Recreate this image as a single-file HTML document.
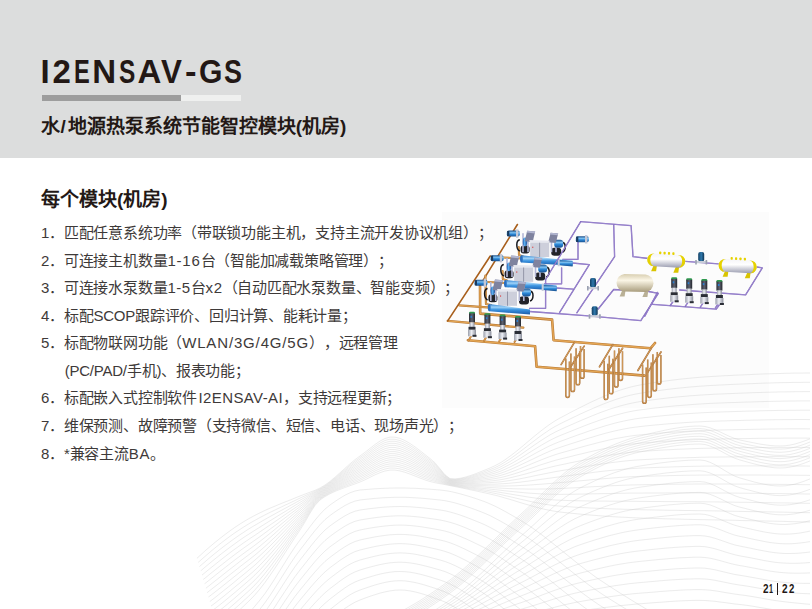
<!DOCTYPE html>
<html lang="zh-CN"><head><meta charset="utf-8">
<style>
html,body{margin:0;padding:0;}
body{width:812px;height:609px;position:relative;overflow:hidden;background:#fff;font-family:"Liberation Sans",sans-serif;color:#231815;}
svg{position:absolute;left:0;top:0;}
#hdr{position:absolute;left:0;top:0;width:812px;height:158px;background:#dcdddd;}
#title span{position:absolute;top:52px;font-size:33px;font-weight:bold;line-height:40px;white-space:nowrap;transform-origin:0 0;}
#bar1{position:absolute;left:42px;top:95px;width:139px;height:6px;background:#9d9d9d;}
#bar2{position:absolute;left:181px;top:95px;width:60px;height:6px;background:#eff0ef;}
#sub{position:absolute;left:41px;top:114px;font-size:19px;font-weight:bold;white-space:nowrap;line-height:26px;}
#h2{position:absolute;left:41px;top:187px;font-size:19px;font-weight:bold;white-space:nowrap;line-height:26px;}
.li{position:absolute;left:41px;font-size:15px;letter-spacing:-0.22px;font-weight:500;text-spacing-trim:space-all;white-space:nowrap;line-height:20px;color:#3e3a39;}
#pg span{position:absolute;top:579px;font-size:12px;font-weight:bold;line-height:20px;color:#231815;transform-origin:0 0;}
#pgbar{position:absolute;left:776.5px;top:583px;width:1.4px;height:11.5px;background:#231815;}
</style></head><body>
<svg width="812" height="609" viewBox="0 0 812 609"><defs>
<linearGradient id="gblue" x1="0" y1="0" x2="0" y2="1"><stop offset="0" stop-color="#1b4f8a"/><stop offset="0.35" stop-color="#7cc0f0"/><stop offset="0.6" stop-color="#2a86d6"/><stop offset="1" stop-color="#1a4f8c"/></linearGradient>
<linearGradient id="gblue2" x1="0" y1="0" x2="0" y2="1"><stop offset="0" stop-color="#2c7fd0"/><stop offset="0.3" stop-color="#9fd3f8"/><stop offset="0.55" stop-color="#3a93e0"/><stop offset="1" stop-color="#1b5aa8"/></linearGradient>
<linearGradient id="gdark" x1="0" y1="0" x2="1" y2="0"><stop offset="0" stop-color="#2a2d35"/><stop offset="0.5" stop-color="#5e6270"/><stop offset="1" stop-color="#23262d"/></linearGradient>
<linearGradient id="gteal" x1="0" y1="0" x2="1" y2="0"><stop offset="0" stop-color="#123e62"/><stop offset="0.5" stop-color="#2f79ad"/><stop offset="1" stop-color="#0f3554"/></linearGradient>
<linearGradient id="gwhite" x1="0" y1="0" x2="0" y2="1"><stop offset="0" stop-color="#f4f4f8"/><stop offset="0.4" stop-color="#ffffff"/><stop offset="1" stop-color="#9a9cb0"/></linearGradient>
<linearGradient id="gsilver" x1="0" y1="0" x2="1" y2="0"><stop offset="0" stop-color="#9a9eaa"/><stop offset="0.45" stop-color="#eef0f6"/><stop offset="1" stop-color="#8a8e9a"/></linearGradient>
<linearGradient id="gblue3" x1="0" y1="0" x2="1" y2="0"><stop offset="0" stop-color="#1f5fb0"/><stop offset="0.4" stop-color="#5fb0f0"/><stop offset="1" stop-color="#1d4f98"/></linearGradient>
<linearGradient id="gbeige" x1="0" y1="0" x2="0" y2="1"><stop offset="0" stop-color="#d8ceb0"/><stop offset="0.35" stop-color="#fbf6e6"/><stop offset="1" stop-color="#a89c7c"/></linearGradient>
</defs><rect x="442" y="212" width="327" height="196" fill="#fcfcfc"/><clipPath id="wclip"><polygon points="188,300 812,300 812,609 212,609 188,528"/></clipPath><g clip-path="url(#wclip)"><g fill="none" stroke="#c8c8c8" stroke-width="0.45" opacity="0.75"><path d="M180,575 L185,569.9 L190,564.9 L195,560.1 L200,555.5 L205,550.9 L210,546.6 L215,542.4 L220,538.4 L225,534.5 L230,530.8 L235,527.3 L240,524 L245,520.9 L250,518 L255,515.3 L260,512.8 L265,510.4 L270,508.2 L275,506.1 L280,504 L285,502 L290,500.1 L295,498 L300,496 L305,494.1 L310,492.2 L315,490.3 L320,488 L325,485 L330,481.4 L335,477.2 L340,472.8 L345,468.3 L350,463.8 L355,459.7 L360,456 L365,452.3 L370,448.4 L375,444.5 L380,441.1 L385,438.5 L390,437.1 L395,437.2 L400,438.4 L405,440.6 L410,443.5 L415,446.9 L420,450.7 L425,454.6 L430,458.5 L435,462.8 L440,468.8 L445,474.8 L450,478.6 L455,478.9 L460,478.3 L465,477.2 L470,475.7 L475,474 L480,472 L485,470 L490,468 L495,465.7 L500,463 L505,459.8 L510,456.2 L515,452.4 L520,448.3 L525,444.1 L530,439.9 L535,435.7 L540,431.7 L545,427.8 L550,424.2 L555,420.9 L560,418 L565,415.4 L570,412.7 L575,410.1 L580,407.6 L585,405.1 L590,402.6 L595,400.3 L600,398 L605,395.8 L610,393.8 L615,391.9 L620,390.2 L625,388.6 L630,387.2 L635,386 L640,385 L645,384.1 L650,383.3 L655,382.5 L660,381.8 L665,381.1 L670,380.4 L675,379.8 L680,379.2 L685,378.7 L690,378.2 L695,377.7 L700,377.3 L705,376.9 L710,376.6 L715,376.3 L720,376 L725,375.7 L730,375.5 L735,375.2 L740,375 L745,374.8 L750,374.6 L755,374.3 L760,374.1 L765,373.9 L770,373.8 L775,373.6 L780,373.5 L785,373.3 L790,373.2 L795,373.1 L800,373.1 L805,373 L810,373"/><path d="M180,579.7 L185,574.8 L190,570 L195,565.3 L200,560.8 L205,556.4 L210,552.1 L215,547.9 L220,543.9 L225,540 L230,536.3 L235,532.7 L240,529.4 L245,526.2 L250,523.1 L255,520.3 L260,517.5 L265,514.9 L270,512.4 L275,510 L280,507.6 L285,505.2 L290,502.9 L295,500.5 L300,498.1 L305,495.8 L310,493.6 L315,491.2 L320,488.8 L325,485.8 L330,482.2 L335,478.1 L340,473.9 L345,469.5 L350,465.2 L355,461.2 L360,457.6 L365,454.1 L370,450.2 L375,446.4 L380,443.1 L385,440.5 L390,439.2 L395,439.3 L400,440.5 L405,442.6 L410,445.4 L415,448.7 L420,452.4 L425,456.2 L430,459.9 L435,464 L440,469.7 L445,475.4 L450,479 L455,479.4 L460,478.9 L465,477.9 L470,476.6 L475,475 L480,473.3 L485,471.4 L490,469.6 L495,467.6 L500,465.1 L505,462.1 L510,458.9 L515,455.4 L520,451.7 L525,447.9 L530,444 L535,440.2 L540,436.4 L545,432.9 L550,429.5 L555,426.5 L560,423.9 L565,421.4 L570,419 L575,416.6 L580,414.2 L585,411.9 L590,409.7 L595,407.5 L600,405.4 L605,403.4 L610,401.5 L615,399.7 L620,398.1 L625,396.6 L630,395.3 L635,394.2 L640,393.3 L645,392.5 L650,391.8 L655,391 L660,390.4 L665,389.7 L670,389.1 L675,388.5 L680,388 L685,387.5 L690,387 L695,386.6 L700,386.2 L705,385.9 L710,385.5 L715,385.3 L720,385 L725,384.8 L730,384.5 L735,384.3 L740,384.1 L745,383.9 L750,383.7 L755,383.5 L760,383.3 L765,383.1 L770,383 L775,382.8 L780,382.7 L785,382.6 L790,382.5 L795,382.4 L800,382.4 L805,382.3 L810,382.3"/><path d="M180,584.4 L185,579.7 L190,575.1 L195,570.6 L200,566.1 L205,561.8 L210,557.5 L215,553.4 L220,549.4 L225,545.5 L230,541.8 L235,538.2 L240,534.7 L245,531.4 L250,528.2 L255,525.2 L260,522.3 L265,519.4 L270,516.6 L275,513.8 L280,511.1 L285,508.4 L290,505.7 L295,503 L300,500.2 L305,497.5 L310,494.9 L315,492.2 L320,489.5 L325,486.5 L330,482.9 L335,479 L340,474.9 L345,470.7 L350,466.6 L355,462.7 L360,459.2 L365,455.8 L370,452 L375,448.3 L380,445 L385,442.6 L390,441.3 L395,441.3 L400,442.5 L405,444.6 L410,447.3 L415,450.6 L420,454.1 L425,457.8 L430,461.4 L435,465.2 L440,470.7 L445,476 L450,479.5 L455,479.9 L460,479.4 L465,478.6 L470,477.5 L475,476.1 L480,474.5 L485,472.9 L490,471.2 L495,469.4 L500,467.2 L505,464.5 L510,461.6 L515,458.4 L520,455.1 L525,451.6 L530,448.1 L535,444.6 L540,441.2 L545,438 L550,434.9 L555,432.2 L560,429.8 L565,427.5 L570,425.3 L575,423.1 L580,420.9 L585,418.8 L590,416.7 L595,414.7 L600,412.7 L605,410.9 L610,409.1 L615,407.5 L620,406 L625,404.7 L630,403.5 L635,402.5 L640,401.6 L645,400.9 L650,400.2 L655,399.5 L660,398.9 L665,398.3 L670,397.7 L675,397.2 L680,396.7 L685,396.3 L690,395.8 L695,395.5 L700,395.1 L705,394.8 L710,394.5 L715,394.2 L720,394 L725,393.8 L730,393.6 L735,393.4 L740,393.2 L745,393 L750,392.8 L755,392.6 L760,392.5 L765,392.3 L770,392.2 L775,392.1 L780,391.9 L785,391.9 L790,391.8 L795,391.7 L800,391.7 L805,391.6 L810,391.6"/><path d="M180,589.1 L185,584.6 L190,580.2 L195,575.8 L200,571.5 L205,567.2 L210,563 L215,558.9 L220,554.9 L225,551 L230,547.3 L235,543.6 L240,540 L245,536.6 L250,533.4 L255,530.2 L260,527.1 L265,523.9 L270,520.8 L275,517.7 L280,514.6 L285,511.6 L290,508.5 L295,505.4 L300,502.4 L305,499.3 L310,496.2 L315,493.1 L320,490.2 L325,487.2 L330,483.7 L335,479.9 L340,475.9 L345,471.9 L350,468 L355,464.2 L360,460.9 L365,457.5 L370,453.8 L375,450.2 L380,447 L385,444.6 L390,443.3 L395,443.4 L400,444.5 L405,446.6 L410,449.2 L415,452.4 L420,455.8 L425,459.4 L430,462.8 L435,466.5 L440,471.6 L445,476.7 L450,479.9 L455,480.3 L460,480 L465,479.3 L470,478.3 L475,477.1 L480,475.7 L485,474.3 L490,472.9 L495,471.3 L500,469.3 L505,466.9 L510,464.3 L515,461.5 L520,458.5 L525,455.4 L530,452.2 L535,449.1 L540,446 L545,443.1 L550,440.3 L555,437.8 L560,435.6 L565,433.6 L570,431.6 L575,429.6 L580,427.6 L585,425.6 L590,423.7 L595,421.9 L600,420.1 L605,418.4 L610,416.8 L615,415.3 L620,414 L625,412.7 L630,411.6 L635,410.7 L640,409.9 L645,409.3 L650,408.6 L655,408 L660,407.5 L665,406.9 L670,406.4 L675,405.9 L680,405.5 L685,405.1 L690,404.7 L695,404.3 L700,404 L705,403.7 L710,403.4 L715,403.2 L720,403 L725,402.8 L730,402.6 L735,402.5 L740,402.3 L745,402.1 L750,402 L755,401.8 L760,401.7 L765,401.5 L770,401.4 L775,401.3 L780,401.2 L785,401.1 L790,401 L795,401 L800,400.9 L805,400.9 L810,400.9"/><path d="M180,593.8 L185,589.5 L190,585.2 L195,581 L200,576.8 L205,572.6 L210,568.5 L215,564.5 L220,560.5 L225,556.6 L230,552.7 L235,549 L240,545.4 L245,541.9 L250,538.5 L255,535.2 L260,531.8 L265,528.4 L270,525 L275,521.6 L280,518.2 L285,514.7 L290,511.3 L295,507.9 L300,504.5 L305,501 L310,497.5 L315,494.1 L320,491 L325,487.9 L330,484.5 L335,480.8 L340,477 L345,473.1 L350,469.3 L355,465.7 L360,462.5 L365,459.2 L370,455.6 L375,452.1 L380,449 L385,446.6 L390,445.4 L395,445.4 L400,446.6 L405,448.5 L410,451.1 L415,454.2 L420,457.5 L425,460.9 L430,464.3 L435,467.7 L440,472.5 L445,477.3 L450,480.4 L455,480.8 L460,480.6 L465,480 L470,479.2 L475,478.2 L480,477 L485,475.7 L490,474.5 L495,473.1 L500,471.4 L505,469.3 L510,467 L515,464.5 L520,461.9 L525,459.1 L530,456.3 L535,453.5 L540,450.8 L545,448.2 L550,445.7 L555,443.5 L560,441.5 L565,439.7 L570,437.8 L575,436 L580,434.2 L585,432.5 L590,430.7 L595,429.1 L600,427.5 L605,425.9 L610,424.5 L615,423.1 L620,421.9 L625,420.8 L630,419.8 L635,418.9 L640,418.2 L645,417.6 L650,417.1 L655,416.5 L660,416 L665,415.5 L670,415.1 L675,414.6 L680,414.2 L685,413.8 L690,413.5 L695,413.2 L700,412.9 L705,412.6 L710,412.4 L715,412.2 L720,412 L725,411.8 L730,411.7 L735,411.5 L740,411.4 L745,411.2 L750,411.1 L755,411 L760,410.8 L765,410.7 L770,410.6 L775,410.5 L780,410.4 L785,410.4 L790,410.3 L795,410.3 L800,410.2 L805,410.2 L810,410.2"/><path d="M180,598.4 L185,594.4 L190,590.3 L195,586.2 L200,582.1 L205,578.1 L210,574 L215,570 L220,566 L225,562.1 L230,558.2 L235,554.4 L240,550.7 L245,547.1 L250,543.6 L255,540.1 L260,536.6 L265,532.9 L270,529.2 L275,525.5 L280,521.7 L285,517.9 L290,514.1 L295,510.4 L300,506.6 L305,502.8 L310,498.8 L315,495 L320,491.8 L325,488.7 L330,485.3 L335,481.7 L340,478 L345,474.3 L350,470.7 L355,467.3 L360,464.1 L365,460.9 L370,457.4 L375,454 L380,451 L385,448.7 L390,447.4 L395,447.5 L400,448.6 L405,450.5 L410,453 L415,456 L420,459.2 L425,462.5 L430,465.7 L435,469 L440,473.5 L445,477.9 L450,480.8 L455,481.3 L460,481.2 L465,480.8 L470,480.1 L475,479.2 L480,478.2 L485,477.2 L490,476.1 L495,475 L500,473.5 L505,471.7 L510,469.7 L515,467.5 L520,465.2 L525,462.8 L530,460.4 L535,458 L540,455.6 L545,453.3 L550,451.1 L555,449.1 L560,447.4 L565,445.7 L570,444.1 L575,442.5 L580,440.9 L585,439.3 L590,437.8 L595,436.3 L600,434.8 L605,433.4 L610,432.1 L615,430.9 L620,429.8 L625,428.8 L630,427.9 L635,427.2 L640,426.6 L645,426 L650,425.5 L655,425 L660,424.6 L665,424.1 L670,423.7 L675,423.3 L680,423 L685,422.6 L690,422.3 L695,422 L700,421.8 L705,421.5 L710,421.3 L715,421.2 L720,421 L725,420.9 L730,420.7 L735,420.6 L740,420.5 L745,420.3 L750,420.2 L755,420.1 L760,420 L765,419.9 L770,419.8 L775,419.7 L780,419.7 L785,419.6 L790,419.6 L795,419.5 L800,419.5 L805,419.5 L810,419.6"/><path d="M180,603.1 L185,599.3 L190,595.4 L195,591.4 L200,587.5 L205,583.5 L210,579.5 L215,575.5 L220,571.5 L225,567.6 L230,563.7 L235,559.8 L240,556.1 L245,552.4 L250,548.8 L255,545.1 L260,541.3 L265,537.4 L270,533.4 L275,529.3 L280,525.2 L285,521.1 L290,516.9 L295,512.8 L300,508.8 L305,504.5 L310,500.1 L315,496 L320,492.5 L325,489.4 L330,486 L335,482.6 L340,479 L345,475.5 L350,472.1 L355,468.8 L360,465.8 L365,462.6 L370,459.2 L375,455.9 L380,452.9 L385,450.7 L390,449.5 L395,449.6 L400,450.6 L405,452.5 L410,455 L415,457.8 L420,460.9 L425,464.1 L430,467.1 L435,470.2 L440,474.4 L445,478.5 L450,481.2 L455,481.8 L460,481.8 L465,481.5 L470,480.9 L475,480.2 L480,479.4 L485,478.6 L490,477.8 L495,476.8 L500,475.6 L505,474.1 L510,472.4 L515,470.6 L520,468.6 L525,466.6 L530,464.5 L535,462.4 L540,460.4 L545,458.4 L550,456.5 L555,454.8 L560,453.2 L565,451.8 L570,450.4 L575,449 L580,447.5 L585,446.1 L590,444.8 L595,443.5 L600,442.2 L605,441 L610,439.8 L615,438.7 L620,437.8 L625,436.9 L630,436.1 L635,435.4 L640,434.9 L645,434.4 L650,434 L655,433.5 L660,433.1 L665,432.7 L670,432.4 L675,432 L680,431.7 L685,431.4 L690,431.1 L695,430.9 L700,430.7 L705,430.5 L710,430.3 L715,430.1 L720,430 L725,429.9 L730,429.8 L735,429.7 L740,429.6 L745,429.5 L750,429.4 L755,429.3 L760,429.2 L765,429.1 L770,429 L775,429 L780,428.9 L785,428.9 L790,428.8 L795,428.8 L800,428.8 L805,428.8 L810,428.9"/><path d="M180,607.8 L185,604.2 L190,600.5 L195,596.7 L200,592.8 L205,588.9 L210,585 L215,581 L220,577.1 L225,573.1 L230,569.2 L235,565.3 L240,561.4 L245,557.6 L250,553.9 L255,550.1 L260,546.1 L265,541.9 L270,537.6 L275,533.2 L280,528.7 L285,524.2 L290,519.7 L295,515.3 L300,510.9 L305,506.2 L310,501.4 L315,496.9 L320,493.2 L325,490.1 L330,486.8 L335,483.4 L340,480.1 L345,476.7 L350,473.4 L355,470.3 L360,467.4 L365,464.3 L370,461 L375,457.8 L380,454.9 L385,452.7 L390,451.6 L395,451.6 L400,452.7 L405,454.5 L410,456.9 L415,459.7 L420,462.7 L425,465.7 L430,468.6 L435,471.5 L440,475.3 L445,479.1 L450,481.7 L455,482.3 L460,482.4 L465,482.2 L470,481.8 L475,481.3 L480,480.7 L485,480 L490,479.4 L495,478.6 L500,477.7 L505,476.5 L510,475.1 L515,473.6 L520,472 L525,470.3 L530,468.6 L535,466.9 L540,465.1 L545,463.5 L550,461.9 L555,460.4 L560,459.1 L565,457.9 L570,456.7 L575,455.4 L580,454.2 L585,453 L590,451.8 L595,450.7 L600,449.5 L605,448.5 L610,447.5 L615,446.6 L620,445.7 L625,444.9 L630,444.2 L635,443.7 L640,443.2 L645,442.8 L650,442.4 L655,442 L660,441.7 L665,441.3 L670,441 L675,440.7 L680,440.4 L685,440.2 L690,440 L695,439.7 L700,439.6 L705,439.4 L710,439.2 L715,439.1 L720,439 L725,438.9 L730,438.8 L735,438.7 L740,438.6 L745,438.6 L750,438.5 L755,438.4 L760,438.3 L765,438.3 L770,438.2 L775,438.2 L780,438.2 L785,438.1 L790,438.1 L795,438.1 L800,438.1 L805,438.1 L810,438.2"/><path d="M180,612.5 L185,609.1 L190,605.5 L195,601.9 L200,598.1 L205,594.3 L210,590.4 L215,586.5 L220,582.6 L225,578.6 L230,574.6 L235,570.7 L240,566.7 L245,562.8 L250,559 L255,555 L260,550.8 L265,546.4 L270,541.8 L275,537.1 L280,532.3 L285,527.4 L290,522.6 L295,517.7 L300,513 L305,508 L310,502.7 L315,497.9 L320,494 L325,490.8 L330,487.6 L335,484.3 L340,481.1 L345,477.9 L350,474.8 L355,471.8 L360,469 L365,466.1 L370,462.8 L375,459.7 L380,456.9 L385,454.8 L390,453.6 L395,453.7 L400,454.7 L405,456.5 L410,458.8 L415,461.5 L420,464.4 L425,467.3 L430,470 L435,472.7 L440,476.3 L445,479.7 L450,482.1 L455,482.8 L460,482.9 L465,482.9 L470,482.7 L475,482.3 L480,481.9 L485,481.4 L490,481 L495,480.5 L500,479.8 L505,478.9 L510,477.8 L515,476.6 L520,475.4 L525,474.1 L530,472.7 L535,471.3 L540,469.9 L545,468.6 L550,467.3 L555,466.1 L560,465 L565,464 L570,462.9 L575,461.9 L580,460.9 L585,459.8 L590,458.8 L595,457.8 L600,456.9 L605,456 L610,455.2 L615,454.4 L620,453.6 L625,453 L630,452.4 L635,451.9 L640,451.5 L645,451.2 L650,450.8 L655,450.5 L660,450.2 L665,449.9 L670,449.7 L675,449.4 L680,449.2 L685,449 L690,448.8 L695,448.6 L700,448.4 L705,448.3 L710,448.2 L715,448.1 L720,448 L725,447.9 L730,447.9 L735,447.8 L740,447.7 L745,447.7 L750,447.6 L755,447.6 L760,447.5 L765,447.5 L770,447.4 L775,447.4 L780,447.4 L785,447.4 L790,447.4 L795,447.4 L800,447.4 L805,447.4 L810,447.5"/><path d="M180,617.2 L185,614 L190,610.6 L195,607.1 L200,603.5 L205,599.7 L210,595.9 L215,592 L220,588.1 L225,584.1 L230,580.1 L235,576.1 L240,572.1 L245,568.1 L250,564.1 L255,560 L260,555.6 L265,550.9 L270,546 L275,541 L280,535.8 L285,530.6 L290,525.4 L295,520.2 L300,515.1 L305,509.7 L310,504 L315,498.8 L320,494.8 L325,491.6 L330,488.4 L335,485.2 L340,482.1 L345,479.1 L350,476.2 L355,473.3 L360,470.6 L365,467.8 L370,464.6 L375,461.6 L380,458.8 L385,456.8 L390,455.7 L395,455.7 L400,456.7 L405,458.4 L410,460.7 L415,463.3 L420,466.1 L425,468.8 L430,471.4 L435,474 L440,477.2 L445,480.3 L450,482.5 L455,483.2 L460,483.5 L465,483.6 L470,483.6 L475,483.4 L480,483.1 L485,482.9 L490,482.6 L495,482.3 L500,481.9 L505,481.2 L510,480.5 L515,479.7 L520,478.8 L525,477.8 L530,476.8 L535,475.7 L540,474.7 L545,473.7 L550,472.7 L555,471.7 L560,470.9 L565,470 L570,469.2 L575,468.4 L580,467.5 L585,466.7 L590,465.8 L595,465 L600,464.3 L605,463.5 L610,462.8 L615,462.2 L620,461.6 L625,461 L630,460.5 L635,460.1 L640,459.8 L645,459.5 L650,459.3 L655,459 L660,458.8 L665,458.5 L670,458.3 L675,458.1 L680,457.9 L685,457.8 L690,457.6 L695,457.5 L700,457.3 L705,457.2 L710,457.1 L715,457.1 L720,457 L725,457 L730,456.9 L735,456.9 L740,456.8 L745,456.8 L750,456.8 L755,456.7 L760,456.7 L765,456.7 L770,456.7 L775,456.6 L780,456.6 L785,456.6 L790,456.7 L795,456.7 L800,456.7 L805,456.7 L810,456.8"/><path d="M180,621.9 L185,618.9 L190,615.7 L195,612.3 L200,608.8 L205,605.2 L210,601.4 L215,597.6 L220,593.6 L225,589.6 L230,585.6 L235,581.5 L240,577.4 L245,573.3 L250,569.2 L255,565 L260,560.3 L265,555.4 L270,550.2 L275,544.8 L280,539.3 L285,533.8 L290,528.2 L295,522.7 L300,517.2 L305,511.5 L310,505.3 L315,499.7 L320,495.5 L325,492.3 L330,489.1 L335,486.1 L340,483.2 L345,480.3 L350,477.5 L355,474.8 L360,472.2 L365,469.5 L370,466.5 L375,463.5 L380,460.8 L385,458.8 L390,457.7 L395,457.8 L400,458.8 L405,460.4 L410,462.6 L415,465.1 L420,467.8 L425,470.4 L430,472.9 L435,475.2 L440,478.1 L445,481 L450,483 L455,483.7 L460,484.1 L465,484.3 L470,484.4 L475,484.4 L480,484.4 L485,484.3 L490,484.2 L495,484.2 L500,483.9 L505,483.6 L510,483.2 L515,482.7 L520,482.2 L525,481.5 L530,480.9 L535,480.2 L540,479.5 L545,478.8 L550,478.1 L555,477.4 L560,476.8 L565,476.1 L570,475.5 L575,474.8 L580,474.2 L585,473.5 L590,472.9 L595,472.2 L600,471.6 L605,471 L610,470.5 L615,470 L620,469.5 L625,469.1 L630,468.7 L635,468.4 L640,468.1 L645,467.9 L650,467.7 L655,467.5 L660,467.3 L665,467.2 L670,467 L675,466.8 L680,466.7 L685,466.5 L690,466.4 L695,466.3 L700,466.2 L705,466.1 L710,466.1 L715,466 L720,466 L725,466 L730,466 L735,465.9 L740,465.9 L745,465.9 L750,465.9 L755,465.9 L760,465.9 L765,465.9 L770,465.9 L775,465.9 L780,465.9 L785,465.9 L790,465.9 L795,466 L800,466 L805,466 L810,466.1"/><path d="M180,626.6 L185,623.8 L190,620.7 L195,617.5 L200,614.1 L205,610.6 L210,606.9 L215,603.1 L220,599.2 L225,595.2 L230,591.1 L235,586.9 L240,582.8 L245,578.6 L250,574.4 L255,570 L260,565.1 L265,559.9 L270,554.4 L275,548.7 L280,542.9 L285,536.9 L290,531 L295,525.1 L300,519.4 L305,513.2 L310,506.7 L315,500.7 L320,496.2 L325,493 L330,489.9 L335,487 L340,484.2 L345,481.5 L350,478.9 L355,476.4 L360,473.9 L365,471.2 L370,468.3 L375,465.4 L380,462.8 L385,460.8 L390,459.8 L395,459.9 L400,460.8 L405,462.4 L410,464.5 L415,466.9 L420,469.5 L425,472 L430,474.3 L435,476.4 L440,479 L445,481.6 L450,483.4 L455,484.2 L460,484.7 L465,485.1 L470,485.3 L475,485.5 L480,485.6 L485,485.7 L490,485.9 L495,486 L500,486 L505,486 L510,485.9 L515,485.8 L520,485.5 L525,485.3 L530,485 L535,484.6 L540,484.3 L545,483.9 L550,483.5 L555,483 L560,482.6 L565,482.2 L570,481.8 L575,481.3 L580,480.8 L585,480.4 L590,479.9 L595,479.4 L600,479 L605,478.6 L610,478.2 L615,477.8 L620,477.4 L625,477.1 L630,476.8 L635,476.6 L640,476.4 L645,476.3 L650,476.2 L655,476 L660,475.9 L665,475.8 L670,475.6 L675,475.5 L680,475.4 L685,475.3 L690,475.2 L695,475.2 L700,475.1 L705,475.1 L710,475 L715,475 L720,475 L725,475 L730,475 L735,475 L740,475 L745,475 L750,475 L755,475 L760,475 L765,475.1 L770,475.1 L775,475.1 L780,475.1 L785,475.2 L790,475.2 L795,475.2 L800,475.3 L805,475.3 L810,475.4"/><path d="M180,631.2 L185,628.7 L190,625.8 L195,622.7 L200,619.5 L205,616 L210,612.4 L215,608.6 L220,604.7 L225,600.7 L230,596.5 L235,592.4 L240,588.1 L245,583.8 L250,579.5 L255,574.9 L260,569.9 L265,564.4 L270,558.6 L275,552.6 L280,546.4 L285,540.1 L290,533.8 L295,527.6 L300,521.5 L305,514.9 L310,508 L315,501.6 L320,497 L325,493.7 L330,490.7 L335,487.9 L340,485.2 L345,482.7 L350,480.3 L355,477.9 L360,475.5 L365,472.9 L370,470.1 L375,467.3 L380,464.8 L385,462.9 L390,461.8 L395,461.9 L400,462.8 L405,464.4 L410,466.4 L415,468.7 L420,471.2 L425,473.6 L430,475.7 L435,477.7 L440,480 L445,482.2 L450,483.8 L455,484.7 L460,485.3 L465,485.8 L470,486.2 L475,486.5 L480,486.8 L485,487.2 L490,487.5 L495,487.8 L500,488.1 L505,488.4 L510,488.6 L515,488.8 L520,488.9 L525,489 L530,489.1 L535,489.1 L540,489 L545,489 L550,488.9 L555,488.7 L560,488.5 L565,488.3 L570,488 L575,487.8 L580,487.5 L585,487.2 L590,486.9 L595,486.6 L600,486.4 L605,486.1 L610,485.8 L615,485.6 L620,485.4 L625,485.2 L630,485 L635,484.9 L640,484.8 L645,484.7 L650,484.6 L655,484.5 L660,484.4 L665,484.4 L670,484.3 L675,484.2 L680,484.2 L685,484.1 L690,484.1 L695,484 L700,484 L705,484 L710,484 L715,484 L720,484 L725,484 L730,484 L735,484.1 L740,484.1 L745,484.1 L750,484.2 L755,484.2 L760,484.2 L765,484.2 L770,484.3 L775,484.3 L780,484.4 L785,484.4 L790,484.5 L795,484.5 L800,484.6 L805,484.7 L810,484.7"/><path d="M180,635.9 L185,633.5 L190,630.9 L195,628 L200,624.8 L205,621.4 L210,617.9 L215,614.1 L220,610.2 L225,606.2 L230,602 L235,597.8 L240,593.4 L245,589.1 L250,584.6 L255,579.9 L260,574.6 L265,568.9 L270,562.8 L275,556.5 L280,549.9 L285,543.3 L290,536.6 L295,530 L300,523.6 L305,516.7 L310,509.3 L315,502.6 L320,497.8 L325,494.5 L330,491.5 L335,488.8 L340,486.3 L345,483.9 L350,481.6 L355,479.4 L360,477.1 L365,474.6 L370,471.9 L375,469.2 L380,466.7 L385,464.9 L390,463.9 L395,464 L400,464.9 L405,466.4 L410,468.3 L415,470.6 L420,472.9 L425,475.2 L430,477.2 L435,478.9 L440,480.9 L445,482.8 L450,484.3 L455,485.2 L460,485.9 L465,486.5 L470,487.1 L475,487.6 L480,488.1 L485,488.6 L490,489.1 L495,489.7 L500,490.2 L505,490.8 L510,491.3 L515,491.8 L520,492.3 L525,492.8 L530,493.2 L535,493.5 L540,493.8 L545,494.1 L550,494.2 L555,494.3 L560,494.4 L565,494.3 L570,494.3 L575,494.2 L580,494.1 L585,494 L590,493.9 L595,493.8 L600,493.7 L605,493.6 L610,493.5 L615,493.4 L620,493.3 L625,493.2 L630,493.1 L635,493.1 L640,493.1 L645,493 L650,493 L655,493 L660,493 L665,493 L670,492.9 L675,492.9 L680,492.9 L685,492.9 L690,492.9 L695,492.9 L700,492.9 L705,492.9 L710,492.9 L715,493 L720,493 L725,493 L730,493.1 L735,493.1 L740,493.2 L745,493.2 L750,493.3 L755,493.3 L760,493.4 L765,493.4 L770,493.5 L775,493.6 L780,493.6 L785,493.7 L790,493.7 L795,493.8 L800,493.9 L805,494 L810,494"/><path d="M180,640.6 L185,638.4 L190,636 L195,633.2 L200,630.1 L205,626.9 L210,623.4 L215,619.6 L220,615.7 L225,611.7 L230,607.5 L235,603.2 L240,598.8 L245,594.3 L250,589.8 L255,584.9 L260,579.4 L265,573.4 L270,567 L275,560.3 L280,553.4 L285,546.4 L290,539.4 L295,532.5 L300,525.8 L305,518.4 L310,510.6 L315,503.5 L320,498.5 L325,495.2 L330,492.3 L335,489.7 L340,487.3 L345,485.1 L350,483 L355,480.9 L360,478.8 L365,476.3 L370,473.7 L375,471 L380,468.7 L385,466.9 L390,466 L395,466 L400,466.9 L405,468.3 L410,470.2 L415,472.4 L420,474.6 L425,476.7 L430,478.6 L435,480.2 L440,481.8 L445,483.4 L450,484.7 L455,485.6 L460,486.5 L465,487.2 L470,487.9 L475,488.6 L480,489.3 L485,490 L490,490.8 L495,491.5 L500,492.3 L505,493.2 L510,494 L515,494.9 L520,495.7 L525,496.5 L530,497.3 L535,498 L540,498.6 L545,499.2 L550,499.6 L555,500 L560,500.2 L565,500.4 L570,500.6 L575,500.7 L580,500.8 L585,500.9 L590,501 L595,501 L600,501.1 L605,501.1 L610,501.2 L615,501.2 L620,501.2 L625,501.2 L630,501.3 L635,501.3 L640,501.4 L645,501.4 L650,501.5 L655,501.5 L660,501.5 L665,501.6 L670,501.6 L675,501.6 L680,501.7 L685,501.7 L690,501.7 L695,501.7 L700,501.8 L705,501.8 L710,501.9 L715,501.9 L720,502 L725,502.1 L730,502.1 L735,502.2 L740,502.3 L745,502.3 L750,502.4 L755,502.5 L760,502.6 L765,502.6 L770,502.7 L775,502.8 L780,502.9 L785,502.9 L790,503 L795,503.1 L800,503.2 L805,503.3 L810,503.3"/><path d="M180,645.3 L185,643.3 L190,641 L195,638.4 L200,635.5 L205,632.3 L210,628.8 L215,625.2 L220,621.3 L225,617.2 L230,613 L235,608.6 L240,604.1 L245,599.5 L250,594.9 L255,589.8 L260,584.1 L265,577.9 L270,571.2 L275,564.2 L280,557 L285,549.6 L290,542.2 L295,535 L300,527.9 L305,520.2 L310,511.9 L315,504.5 L320,499.2 L325,495.9 L330,493 L335,490.5 L340,488.3 L345,486.3 L350,484.4 L355,482.4 L360,480.4 L365,478 L370,475.5 L375,472.9 L380,470.7 L385,469 L390,468 L395,468.1 L400,468.9 L405,470.3 L410,472.1 L415,474.2 L420,476.3 L425,478.3 L430,480.1 L435,481.4 L440,482.8 L445,484 L450,485.2 L455,486.1 L460,487 L465,487.9 L470,488.8 L475,489.7 L480,490.5 L485,491.4 L490,492.4 L495,493.4 L500,494.4 L505,495.6 L510,496.7 L515,497.9 L520,499.1 L525,500.2 L530,501.4 L535,502.4 L540,503.4 L545,504.3 L550,505 L555,505.7 L560,506.1 L565,506.5 L570,506.8 L575,507.2 L580,507.5 L585,507.7 L590,508 L595,508.2 L600,508.4 L605,508.6 L610,508.8 L615,509 L620,509.1 L625,509.3 L630,509.4 L635,509.6 L640,509.7 L645,509.8 L650,509.9 L655,510 L660,510.1 L665,510.2 L670,510.3 L675,510.3 L680,510.4 L685,510.5 L690,510.5 L695,510.6 L700,510.7 L705,510.7 L710,510.8 L715,510.9 L720,511 L725,511.1 L730,511.2 L735,511.3 L740,511.4 L745,511.5 L750,511.6 L755,511.6 L760,511.7 L765,511.8 L770,511.9 L775,512 L780,512.1 L785,512.2 L790,512.3 L795,512.4 L800,512.5 L805,512.6 L810,512.7"/><path d="M180,650 L185,648.2 L190,646.1 L195,643.6 L200,640.8 L205,637.7 L210,634.3 L215,630.7 L220,626.8 L225,622.7 L230,618.5 L235,614 L240,609.5 L245,604.8 L250,600 L255,594.8 L260,588.9 L265,582.4 L270,575.4 L275,568.1 L280,560.5 L285,552.8 L290,545.1 L295,537.4 L300,530 L305,521.9 L310,513.2 L315,505.4 L320,500 L325,496.6 L330,493.8 L335,491.4 L340,489.4 L345,487.5 L350,485.7 L355,483.9 L360,482 L365,479.8 L370,477.3 L375,474.8 L380,472.7 L385,471 L390,470.1 L395,470.1 L400,470.9 L405,472.3 L410,474.1 L415,476 L420,478 L425,479.9 L430,481.5 L435,482.7 L440,483.7 L445,484.6 L450,485.6 L455,486.6 L460,487.6 L465,488.6 L470,489.7 L475,490.7 L480,491.8 L485,492.9 L490,494 L495,495.2 L500,496.5 L505,498 L510,499.4 L515,500.9 L520,502.5 L525,504 L530,505.4 L535,506.9 L540,508.2 L545,509.4 L550,510.4 L555,511.3 L560,512 L565,512.6 L570,513.1 L575,513.6 L580,514.1 L585,514.6 L590,515 L595,515.4 L600,515.8 L605,516.2 L610,516.5 L615,516.8 L620,517.1 L625,517.3 L630,517.6 L635,517.8 L640,518 L645,518.2 L650,518.3 L655,518.5 L660,518.6 L665,518.8 L670,518.9 L675,519 L680,519.1 L685,519.3 L690,519.4 L695,519.5 L700,519.6 L705,519.7 L710,519.8 L715,519.9 L720,520 L725,520.1 L730,520.2 L735,520.3 L740,520.5 L745,520.6 L750,520.7 L755,520.8 L760,520.9 L765,521 L770,521.1 L775,521.2 L780,521.3 L785,521.4 L790,521.6 L795,521.7 L800,521.8 L805,521.9 L810,522"/></g><g fill="none" stroke="#c8c8c8" stroke-width="0.45" opacity="0.75"><path d="M200,660 L205,656.3 L210,652.4 L215,648.1 L220,643.6 L225,638.9 L230,633.9 L235,628.7 L240,623.3 L245,617.7 L250,611.9 L255,606 L260,600 L265,593.5 L270,586.2 L275,578.5 L280,570.4 L285,562.4 L290,554.4 L295,546.9 L300,540 L305,533.4 L310,526.7 L315,520.2 L320,514.3 L325,509.1 L330,505 L335,501.5 L340,498.2 L345,495.2 L350,492.8 L355,491 L360,490 L365,489.6 L370,489.2 L375,488.8 L380,488.5 L385,488.3 L390,488.1 L395,488 L400,488 L405,488 L410,488.2 L415,488.3 L420,488.6 L425,488.9 L430,489.2 L435,489.6 L440,490 L445,490.6 L450,491.4 L455,492.5 L460,493.8 L465,495.2 L470,496.7 L475,498.3 L480,500 L485,501.8 L490,503.9 L495,506.2 L500,508.7 L505,511.4 L510,514.2 L515,517.1 L520,520 L525,523.1 L530,526.3 L535,529.8 L540,533.5 L545,537.3 L550,541.2 L555,545.1 L560,549.2 L565,553.2 L570,557.3 L575,561.3 L580,565.3 L585,569.2 L590,572.9 L595,576.6 L600,580 L605,583.3 L610,586.6 L615,589.8 L620,593 L625,596.1 L630,599.2 L635,602.3 L640,605.3 L645,608.3 L650,611.3 L655,614.2 L660,617.1 L665,620 L670,622.9 L675,625.8 L680,628.6 L685,631.5 L690,634.3 L695,637.2 L700,640 L705,642.8 L710,645.6 L715,648.4 L720,651.2 L725,654 L730,656.8 L735,659.5 L740,662.3 L745,665 L750,667.7 L755,670.4 L760,673 L765,675.7 L770,678.4 L775,681 L780,683.6 L785,686.2 L790,688.8 L795,691.4 L800,693.9 L805,696.5 L810,699"/><path d="M200,669.1 L205,665.4 L210,661.4 L215,657.1 L220,652.6 L225,647.8 L230,642.8 L235,637.6 L240,632.2 L245,626.6 L250,620.9 L255,615.1 L260,609.1 L265,602.6 L270,595.5 L275,587.8 L280,579.9 L285,572 L290,564.2 L295,556.8 L300,550 L305,543.5 L310,536.9 L315,530.6 L320,524.7 L325,519.6 L330,515.5 L335,511.9 L340,508.6 L345,505.5 L350,503 L355,501.1 L360,500 L365,499.4 L370,498.9 L375,498.4 L380,498 L385,497.7 L390,497.5 L395,497.3 L400,497.3 L405,497.3 L410,497.5 L415,497.8 L420,498.1 L425,498.5 L430,499 L435,499.5 L440,500 L445,500.7 L450,501.7 L455,502.9 L460,504.4 L465,506 L470,507.7 L475,509.5 L480,511.4 L485,513.4 L490,515.6 L495,518.2 L500,520.9 L505,523.7 L510,526.7 L515,529.7 L520,532.7 L525,535.9 L530,539.2 L535,542.8 L540,546.5 L545,550.3 L550,554.2 L555,558.2 L560,562.2 L565,566.3 L570,570.3 L575,574.3 L580,578.2 L585,582.1 L590,585.8 L595,589.3 L600,592.7 L605,596 L610,599.2 L615,602.3 L620,605.4 L625,608.5 L630,611.5 L635,614.5 L640,617.4 L645,620.3 L650,623.2 L655,626 L660,628.8 L665,631.6 L670,634.4 L675,637.2 L680,639.9 L685,642.7 L690,645.4 L695,648.2 L700,650.9 L705,653.7 L710,656.4 L715,659.1 L720,661.8 L725,664.5 L730,667.2 L735,669.8 L740,672.5 L745,675.1 L750,677.7 L755,680.4 L760,683 L765,685.5 L770,688.1 L775,690.7 L780,693.2 L785,695.7 L790,698.2 L795,700.7 L800,703.2 L805,705.7 L810,708.1"/><path d="M200,678.2 L205,674.4 L210,670.4 L215,666 L220,661.5 L225,656.7 L230,651.7 L235,646.5 L240,641.2 L245,635.6 L250,629.9 L255,624.1 L260,618.2 L265,611.8 L270,604.7 L275,597.2 L280,589.4 L285,581.6 L290,574 L295,566.7 L300,560 L305,553.6 L310,547.1 L315,540.9 L320,535.1 L325,530 L330,525.9 L335,522.3 L340,518.9 L345,515.8 L350,513.2 L355,511.2 L360,510 L365,509.3 L370,508.6 L375,508.1 L380,507.5 L385,507.1 L390,506.8 L395,506.6 L400,506.5 L405,506.6 L410,506.8 L415,507.2 L420,507.6 L425,508.1 L430,508.7 L435,509.3 L440,510 L445,510.8 L450,512 L455,513.4 L460,515 L465,516.8 L470,518.7 L475,520.7 L480,522.7 L485,524.9 L490,527.4 L495,530.1 L500,533 L505,536 L510,539.1 L515,542.3 L520,545.5 L525,548.7 L530,552.1 L535,555.7 L540,559.5 L545,563.3 L550,567.3 L555,571.3 L560,575.3 L565,579.3 L570,583.3 L575,587.3 L580,591.2 L585,595 L590,598.6 L595,602.1 L600,605.5 L605,608.6 L610,611.8 L615,614.8 L620,617.9 L625,620.8 L630,623.7 L635,626.6 L640,629.5 L645,632.3 L650,635 L655,637.8 L660,640.5 L665,643.2 L670,645.9 L675,648.5 L680,651.2 L685,653.9 L690,656.5 L695,659.2 L700,661.8 L705,664.5 L710,667.1 L715,669.7 L720,672.4 L725,675 L730,677.6 L735,680.2 L740,682.7 L745,685.3 L750,687.8 L755,690.3 L760,692.9 L765,695.4 L770,697.9 L775,700.3 L780,702.8 L785,705.2 L790,707.7 L795,710.1 L800,712.5 L805,714.9 L810,717.2"/><path d="M200,687.3 L205,683.4 L210,679.3 L215,675 L220,670.4 L225,665.6 L230,660.6 L235,655.5 L240,650.1 L245,644.6 L250,639 L255,633.2 L260,627.3 L265,620.9 L270,614 L275,606.6 L280,598.9 L285,591.3 L290,583.8 L295,576.6 L300,570 L305,563.7 L310,557.3 L315,551.2 L320,545.5 L325,540.5 L330,536.4 L335,532.7 L340,529.3 L345,526.1 L350,523.4 L355,521.3 L360,520 L365,519.2 L370,518.4 L375,517.7 L380,517.1 L385,516.5 L390,516.2 L395,515.9 L400,515.8 L405,515.9 L410,516.2 L415,516.6 L420,517.1 L425,517.8 L430,518.5 L435,519.2 L440,520 L445,521 L450,522.3 L455,523.8 L460,525.6 L465,527.6 L470,529.7 L475,531.9 L480,534.1 L485,536.5 L490,539.1 L495,542 L500,545.1 L505,548.3 L510,551.6 L515,554.9 L520,558.2 L525,561.5 L530,565 L535,568.7 L540,572.5 L545,576.4 L550,580.3 L555,584.3 L560,588.4 L565,592.4 L570,596.4 L575,600.3 L580,604.1 L585,607.9 L590,611.5 L595,614.9 L600,618.2 L605,621.3 L610,624.4 L615,627.3 L620,630.3 L625,633.2 L630,636 L635,638.8 L640,641.5 L645,644.2 L650,646.9 L655,649.5 L660,652.2 L665,654.8 L670,657.3 L675,659.9 L680,662.5 L685,665 L690,667.6 L695,670.2 L700,672.7 L705,675.3 L710,677.9 L715,680.4 L720,682.9 L725,685.5 L730,688 L735,690.5 L740,693 L745,695.4 L750,697.9 L755,700.3 L760,702.8 L765,705.2 L770,707.6 L775,710 L780,712.4 L785,714.7 L790,717.1 L795,719.4 L800,721.8 L805,724.1 L810,726.4"/><path d="M200,696.4 L205,692.5 L210,688.3 L215,683.9 L220,679.3 L225,674.6 L230,669.6 L235,664.4 L240,659.1 L245,653.6 L250,648 L255,642.2 L260,636.4 L265,630.1 L270,623.2 L275,615.9 L280,608.4 L285,600.9 L290,593.5 L295,586.5 L300,580 L305,573.8 L310,567.6 L315,561.5 L320,556 L325,551 L330,546.8 L335,543.2 L340,539.6 L345,536.4 L350,533.6 L355,531.4 L360,530 L365,529 L370,528.1 L375,527.3 L380,526.6 L385,526 L390,525.5 L395,525.2 L400,525.1 L405,525.2 L410,525.5 L415,526 L420,526.6 L425,527.4 L430,528.2 L435,529.1 L440,530 L445,531.1 L450,532.5 L455,534.3 L460,536.3 L465,538.4 L470,540.7 L475,543.1 L480,545.5 L485,548 L490,550.9 L495,554 L500,557.2 L505,560.6 L510,564.1 L515,567.5 L520,570.9 L525,574.3 L530,577.9 L535,581.7 L540,585.5 L545,589.4 L550,593.4 L555,597.4 L560,601.4 L565,605.4 L570,609.4 L575,613.3 L580,617.1 L585,620.8 L590,624.3 L595,627.7 L600,630.9 L605,634 L610,636.9 L615,639.9 L620,642.7 L625,645.5 L630,648.2 L635,650.9 L640,653.6 L645,656.2 L650,658.8 L655,661.3 L660,663.8 L665,666.3 L670,668.8 L675,671.3 L680,673.8 L685,676.2 L690,678.7 L695,681.2 L700,683.6 L705,686.1 L710,688.6 L715,691.1 L720,693.5 L725,695.9 L730,698.4 L735,700.8 L740,703.2 L745,705.6 L750,708 L755,710.3 L760,712.7 L765,715 L770,717.3 L775,719.7 L780,722 L785,724.3 L790,726.5 L795,728.8 L800,731 L805,733.3 L810,735.5"/><path d="M200,705.5 L205,701.5 L210,697.3 L215,692.9 L220,688.3 L225,683.5 L230,678.5 L235,673.3 L240,668 L245,662.6 L250,657 L255,651.3 L260,645.5 L265,639.2 L270,632.5 L275,625.3 L280,617.9 L285,610.5 L290,603.3 L295,596.4 L300,590 L305,583.9 L310,577.8 L315,571.9 L320,566.4 L325,561.4 L330,557.3 L335,553.6 L340,550 L345,546.7 L350,543.8 L355,541.5 L360,540 L365,538.9 L370,537.9 L375,536.9 L380,536.1 L385,535.4 L390,534.8 L395,534.5 L400,534.4 L405,534.5 L410,534.9 L415,535.4 L420,536.1 L425,537 L430,538 L435,539 L440,540 L445,541.2 L450,542.8 L455,544.7 L460,546.9 L465,549.2 L470,551.7 L475,554.2 L480,556.8 L485,559.6 L490,562.6 L495,565.9 L500,569.3 L505,572.9 L510,576.5 L515,580.1 L520,583.6 L525,587.2 L530,590.8 L535,594.6 L540,598.5 L545,602.5 L550,606.5 L555,610.5 L560,614.5 L565,618.5 L570,622.4 L575,626.3 L580,630 L585,633.7 L590,637.2 L595,640.5 L600,643.6 L605,646.6 L610,649.5 L615,652.4 L620,655.1 L625,657.8 L630,660.5 L635,663.1 L640,665.7 L645,668.2 L650,670.6 L655,673.1 L660,675.5 L665,677.9 L670,680.3 L675,682.7 L680,685 L685,687.4 L690,689.8 L695,692.2 L700,694.5 L705,696.9 L710,699.3 L715,701.7 L720,704.1 L725,706.4 L730,708.8 L735,711.1 L740,713.4 L745,715.7 L750,718 L755,720.3 L760,722.6 L765,724.8 L770,727.1 L775,729.3 L780,731.6 L785,733.8 L790,736 L795,738.1 L800,740.3 L805,742.5 L810,744.6"/><path d="M200,714.5 L205,710.5 L210,706.3 L215,701.8 L220,697.2 L225,692.4 L230,687.4 L235,682.3 L240,677 L245,671.5 L250,666 L255,660.3 L260,654.5 L265,648.4 L270,641.7 L275,634.7 L280,627.4 L285,620.2 L290,613.1 L295,606.3 L300,600 L305,594 L310,588 L315,582.2 L320,576.8 L325,571.9 L330,567.7 L335,564 L340,560.3 L345,557 L350,554 L355,551.6 L360,550 L365,548.8 L370,547.6 L375,546.5 L380,545.6 L385,544.8 L390,544.2 L395,543.8 L400,543.6 L405,543.8 L410,544.2 L415,544.8 L420,545.7 L425,546.6 L430,547.7 L435,548.8 L440,550 L445,551.4 L450,553.1 L455,555.2 L460,557.5 L465,560 L470,562.7 L475,565.4 L480,568.2 L485,571.1 L490,574.3 L495,577.8 L500,581.5 L505,585.2 L510,589 L515,592.7 L520,596.4 L525,600 L530,603.7 L535,607.6 L540,611.5 L545,615.5 L550,619.5 L555,623.5 L560,627.6 L565,631.5 L570,635.4 L575,639.3 L580,643 L585,646.6 L590,650 L595,653.3 L600,656.4 L605,659.3 L610,662.1 L615,664.9 L620,667.6 L625,670.2 L630,672.8 L635,675.3 L640,677.7 L645,680.1 L650,682.5 L655,684.9 L660,687.2 L665,689.5 L670,691.8 L675,694 L680,696.3 L685,698.6 L690,700.9 L695,703.1 L700,705.5 L705,707.8 L710,710.1 L715,712.4 L720,714.6 L725,716.9 L730,719.2 L735,721.4 L740,723.7 L745,725.9 L750,728.1 L755,730.3 L760,732.5 L765,734.7 L770,736.8 L775,739 L780,741.1 L785,743.3 L790,745.4 L795,747.5 L800,749.6 L805,751.7 L810,753.7"/><path d="M200,723.6 L205,719.6 L210,715.3 L215,710.8 L220,706.1 L225,701.3 L230,696.3 L235,691.2 L240,685.9 L245,680.5 L250,675 L255,669.4 L260,663.6 L265,657.6 L270,651 L275,644 L280,636.9 L285,629.8 L290,622.8 L295,616.2 L300,610 L305,604.1 L310,598.2 L315,592.5 L320,587.2 L325,582.4 L330,578.2 L335,574.4 L340,570.7 L345,567.2 L350,564.2 L355,561.8 L360,560 L365,558.7 L370,557.4 L375,556.2 L380,555.1 L385,554.2 L390,553.5 L395,553.1 L400,552.9 L405,553.1 L410,553.5 L415,554.2 L420,555.2 L425,556.2 L430,557.4 L435,558.7 L440,560 L445,561.5 L450,563.4 L455,565.6 L460,568.1 L465,570.8 L470,573.7 L475,576.6 L480,579.5 L485,582.7 L490,586.1 L495,589.7 L500,593.6 L505,597.5 L510,601.5 L515,605.3 L520,609.1 L525,612.8 L530,616.6 L535,620.6 L540,624.5 L545,628.5 L550,632.6 L555,636.6 L560,640.6 L565,644.6 L570,648.5 L575,652.3 L580,655.9 L585,659.5 L590,662.9 L595,666.1 L600,669.1 L605,671.9 L610,674.7 L615,677.4 L620,680 L625,682.5 L630,685 L635,687.4 L640,689.8 L645,692.1 L650,694.4 L655,696.6 L660,698.9 L665,701.1 L670,703.2 L675,705.4 L680,707.6 L685,709.8 L690,711.9 L695,714.1 L700,716.4 L705,718.6 L710,720.8 L715,723 L720,725.2 L725,727.4 L730,729.6 L735,731.7 L740,733.9 L745,736 L750,738.2 L755,740.3 L760,742.4 L765,744.5 L770,746.6 L775,748.7 L780,750.7 L785,752.8 L790,754.8 L795,756.8 L800,758.9 L805,760.9 L810,762.8"/><path d="M200,732.7 L205,728.6 L210,724.3 L215,719.7 L220,715.1 L225,710.2 L230,705.3 L235,700.1 L240,694.9 L245,689.5 L250,684 L255,678.4 L260,672.7 L265,666.7 L270,660.2 L275,653.4 L280,646.4 L285,639.4 L290,632.6 L295,626.1 L300,620 L305,614.2 L310,608.4 L315,602.9 L320,597.6 L325,592.8 L330,588.6 L335,584.8 L340,581 L345,577.5 L350,574.4 L355,571.9 L360,570 L365,568.5 L370,567.1 L375,565.8 L380,564.6 L385,563.6 L390,562.8 L395,562.4 L400,562.2 L405,562.4 L410,562.9 L415,563.7 L420,564.7 L425,565.9 L430,567.2 L435,568.6 L440,570 L445,571.6 L450,573.7 L455,576.1 L460,578.8 L465,581.6 L470,584.7 L475,587.8 L480,590.9 L485,594.2 L490,597.8 L495,601.7 L500,605.7 L505,609.8 L510,613.9 L515,617.9 L520,621.8 L525,625.6 L530,629.5 L535,633.5 L540,637.5 L545,641.6 L550,645.6 L555,649.7 L560,653.7 L565,657.6 L570,661.5 L575,665.3 L580,668.9 L585,672.4 L590,675.7 L595,678.9 L600,681.8 L605,684.6 L610,687.3 L615,689.9 L620,692.4 L625,694.9 L630,697.3 L635,699.6 L640,701.9 L645,704.1 L650,706.3 L655,708.4 L660,710.5 L665,712.6 L670,714.7 L675,716.8 L680,718.9 L685,720.9 L690,723 L695,725.1 L700,727.3 L705,729.4 L710,731.5 L715,733.7 L720,735.8 L725,737.9 L730,740 L735,742.1 L740,744.1 L745,746.2 L750,748.2 L755,750.3 L760,752.3 L765,754.3 L770,756.3 L775,758.3 L780,760.3 L785,762.3 L790,764.2 L795,766.2 L800,768.1 L805,770.1 L810,772"/><path d="M200,741.8 L205,737.6 L210,733.2 L215,728.7 L220,724 L225,719.2 L230,714.2 L235,709.1 L240,703.8 L245,698.5 L250,693 L255,687.5 L260,681.8 L265,675.9 L270,669.5 L275,662.8 L280,655.9 L285,649.1 L290,642.4 L295,636 L300,630 L305,624.3 L310,618.7 L315,613.2 L320,608 L325,603.3 L330,599.1 L335,595.2 L340,591.4 L345,587.8 L350,584.6 L355,582 L360,580 L365,578.4 L370,576.9 L375,575.4 L380,574.1 L385,573 L390,572.2 L395,571.6 L400,571.5 L405,571.7 L410,572.2 L415,573.1 L420,574.2 L425,575.5 L430,576.9 L435,578.5 L440,580 L445,581.8 L450,584 L455,586.5 L460,589.4 L465,592.5 L470,595.7 L475,599 L480,602.3 L485,605.8 L490,609.6 L495,613.6 L500,617.8 L505,622.1 L510,626.4 L515,630.6 L520,634.5 L525,638.5 L530,642.4 L535,646.5 L540,650.5 L545,654.6 L550,658.7 L555,662.7 L560,666.7 L565,670.7 L570,674.5 L575,678.2 L580,681.8 L585,685.3 L590,688.6 L595,691.7 L600,694.5 L605,697.3 L610,699.9 L615,702.4 L620,704.8 L625,707.2 L630,709.5 L635,711.7 L640,713.9 L645,716 L650,718.1 L655,720.2 L660,722.2 L665,724.2 L670,726.2 L675,728.2 L680,730.1 L685,732.1 L690,734.1 L695,736.1 L700,738.2 L705,740.2 L710,742.3 L715,744.3 L720,746.4 L725,748.4 L730,750.4 L735,752.4 L740,754.4 L745,756.3 L750,758.3 L755,760.3 L760,762.2 L765,764.2 L770,766.1 L775,768 L780,769.9 L785,771.8 L790,773.7 L795,775.5 L800,777.4 L805,779.3 L810,781.1"/><path d="M200,750.9 L205,746.6 L210,742.2 L215,737.7 L220,732.9 L225,728.1 L230,723.1 L235,718 L240,712.8 L245,707.5 L250,702 L255,696.5 L260,690.9 L265,685 L270,678.7 L275,672.1 L280,665.4 L285,658.7 L290,652.2 L295,645.9 L300,640 L305,634.4 L310,628.9 L315,623.5 L320,618.5 L325,613.8 L330,609.5 L335,605.6 L340,601.7 L345,598.1 L350,594.8 L355,592.1 L360,590 L365,588.3 L370,586.6 L375,585 L380,583.6 L385,582.4 L390,581.5 L395,580.9 L400,580.7 L405,580.9 L410,581.6 L415,582.5 L420,583.7 L425,585.1 L430,586.7 L435,588.3 L440,590 L445,591.9 L450,594.3 L455,597 L460,600 L465,603.3 L470,606.7 L475,610.1 L480,613.6 L485,617.3 L490,621.3 L495,625.5 L500,630 L505,634.4 L510,638.9 L515,643.2 L520,647.3 L525,651.3 L530,655.3 L535,659.4 L540,663.6 L545,667.7 L550,671.8 L555,675.8 L560,679.8 L565,683.7 L570,687.5 L575,691.2 L580,694.8 L585,698.2 L590,701.4 L595,704.5 L600,707.3 L605,709.9 L610,712.5 L615,714.9 L620,717.3 L625,719.6 L630,721.8 L635,723.9 L640,726 L645,728 L650,730 L655,732 L660,733.9 L665,735.8 L670,737.7 L675,739.5 L680,741.4 L685,743.3 L690,745.2 L695,747.1 L700,749.1 L705,751.1 L710,753 L715,755 L720,756.9 L725,758.9 L730,760.8 L735,762.7 L740,764.6 L745,766.5 L750,768.4 L755,770.3 L760,772.1 L765,774 L770,775.8 L775,777.7 L780,779.5 L785,781.3 L790,783.1 L795,784.9 L800,786.7 L805,788.4 L810,790.2"/><path d="M200,760 L205,755.7 L210,751.2 L215,746.6 L220,741.9 L225,737 L230,732 L235,726.9 L240,721.7 L245,716.4 L250,711 L255,705.6 L260,700 L265,694.2 L270,688 L275,681.5 L280,674.9 L285,668.4 L290,661.9 L295,655.8 L300,650 L305,644.5 L310,639.1 L315,633.9 L320,628.9 L325,624.2 L330,620 L335,616 L340,612.1 L345,608.4 L350,605.1 L355,602.2 L360,600 L365,598.1 L370,596.3 L375,594.7 L380,593.1 L385,591.9 L390,590.9 L395,590.2 L400,590 L405,590.2 L410,590.9 L415,591.9 L420,593.2 L425,594.7 L430,596.4 L435,598.2 L440,600 L445,602 L450,604.5 L455,607.4 L460,610.6 L465,614.1 L470,617.7 L475,621.3 L480,625 L485,628.8 L490,633 L495,637.5 L500,642.1 L505,646.7 L510,651.3 L515,655.8 L520,660 L525,664.1 L530,668.2 L535,672.4 L540,676.6 L545,680.7 L550,684.8 L555,688.9 L560,692.9 L565,696.8 L570,700.6 L575,704.2 L580,707.7 L585,711.1 L590,714.3 L595,717.2 L600,720 L605,722.6 L610,725.1 L615,727.4 L620,729.7 L625,731.9 L630,734 L635,736.1 L640,738.1 L645,740 L650,741.9 L655,743.7 L660,745.5 L665,747.3 L670,749.1 L675,750.9 L680,752.7 L685,754.5 L690,756.3 L695,758.1 L700,760 L705,761.9 L710,763.8 L715,765.6 L720,767.5 L725,769.3 L730,771.2 L735,773 L740,774.8 L745,776.6 L750,778.5 L755,780.2 L760,782 L765,783.8 L770,785.6 L775,787.3 L780,789.1 L785,790.8 L790,792.5 L795,794.3 L800,796 L805,797.6 L810,799.3"/></g><g fill="none" stroke="#c8c8c8" stroke-width="0.45" opacity="0.75"><path d="M400,612 L405,609.3 L410,606.5 L415,603.6 L420,600.6 L425,597.4 L430,594.2 L435,590.8 L440,587.3 L445,583.7 L450,580 L455,576.1 L460,572 L465,567.7 L470,563.2 L475,558.5 L480,553.7 L485,548.9 L490,543.9 L495,539 L500,534.1 L505,529.2 L510,524.3 L515,519.6 L520,515 L525,510.4 L530,505.6 L535,500.7 L540,495.8 L545,490.9 L550,486.1 L555,481.4 L560,476.9 L565,472.6 L570,468.7 L575,465.1 L580,462 L585,459.1 L590,456.4 L595,453.7 L600,451.2 L605,448.7 L610,446.4 L615,444.3 L620,442.3 L625,440.5 L630,438.8 L635,437.3 L640,436 L645,434.8 L650,433.6 L655,432.4 L660,431.3 L665,430.2 L670,429.2 L675,428.3 L680,427.5 L685,426.9 L690,426.4 L695,426.1 L700,426 L705,426.5 L710,427.8 L715,429.7 L720,431.9 L725,434.3 L730,436.6 L735,438.6 L740,440 L745,441.1 L750,442.1 L755,443.1 L760,444.1 L765,444.8 L770,445.5 L775,445.9 L780,446 L785,445.8 L790,445.1 L795,444 L800,442.5 L805,440.8 L810,438.8"/><path d="M400,613.7 L405,611.1 L410,608.3 L415,605.4 L420,602.4 L425,599.2 L430,596 L435,592.6 L440,589.1 L445,585.5 L450,581.9 L455,578 L460,573.9 L465,569.6 L470,565.1 L475,560.4 L480,555.6 L485,550.8 L490,545.9 L495,540.9 L500,536 L505,531.1 L510,526.3 L515,521.6 L520,517 L525,512.4 L530,507.6 L535,502.8 L540,497.8 L545,493 L550,488.1 L555,483.5 L560,479 L565,474.7 L570,470.8 L575,467.3 L580,464.1 L585,461.3 L590,458.5 L595,455.9 L600,453.3 L605,450.9 L610,448.6 L615,446.5 L620,444.5 L625,442.7 L630,441 L635,439.6 L640,438.3 L645,437.1 L650,435.9 L655,434.8 L660,433.7 L665,432.6 L670,431.7 L675,430.8 L680,430 L685,429.4 L690,429 L695,428.7 L700,428.6 L705,429.1 L710,430.4 L715,432.3 L720,434.6 L725,437.1 L730,439.4 L735,441.4 L740,442.9 L745,444 L750,445.1 L755,446.1 L760,447.1 L765,447.9 L770,448.6 L775,449 L780,449.1 L785,448.9 L790,448.2 L795,447.1 L800,445.7 L805,444 L810,442"/><path d="M400,615.4 L405,612.8 L410,610 L415,607.2 L420,604.1 L425,601 L430,597.8 L435,594.4 L440,591 L445,587.4 L450,583.7 L455,579.9 L460,575.8 L465,571.5 L470,567 L475,562.3 L480,557.6 L485,552.7 L490,547.8 L495,542.9 L500,538 L505,533.1 L510,528.3 L515,523.6 L520,519 L525,514.4 L530,509.6 L535,504.8 L540,499.9 L545,495 L550,490.2 L555,485.5 L560,481.1 L565,476.9 L570,472.9 L575,469.4 L580,466.3 L585,463.4 L590,460.7 L595,458.1 L600,455.5 L605,453.1 L610,450.8 L615,448.7 L620,446.7 L625,444.9 L630,443.3 L635,441.8 L640,440.6 L645,439.4 L650,438.3 L655,437.2 L660,436.1 L665,435.1 L670,434.1 L675,433.3 L680,432.6 L685,432 L690,431.5 L695,431.2 L700,431.1 L705,431.6 L710,433 L715,435 L720,437.3 L725,439.8 L730,442.2 L735,444.2 L740,445.7 L745,446.9 L750,448 L755,449.1 L760,450.1 L765,451 L770,451.7 L775,452.1 L780,452.3 L785,452 L790,451.4 L795,450.3 L800,448.9 L805,447.1 L810,445.1"/><path d="M400,617.1 L405,614.5 L410,611.8 L415,608.9 L420,605.9 L425,602.8 L430,599.6 L435,596.2 L440,592.8 L445,589.2 L450,585.6 L455,581.7 L460,577.6 L465,573.3 L470,568.9 L475,564.2 L480,559.5 L485,554.7 L490,549.8 L495,544.8 L500,539.9 L505,535.1 L510,530.3 L515,525.6 L520,521 L525,516.4 L530,511.7 L535,506.8 L540,501.9 L545,497.1 L550,492.3 L555,487.6 L560,483.2 L565,479 L570,475.1 L575,471.5 L580,468.4 L585,465.6 L590,462.9 L595,460.2 L600,457.7 L605,455.3 L610,453 L615,450.9 L620,448.9 L625,447.1 L630,445.5 L635,444.1 L640,442.9 L645,441.7 L650,440.6 L655,439.5 L660,438.5 L665,437.5 L670,436.6 L675,435.8 L680,435.1 L685,434.5 L690,434.1 L695,433.8 L700,433.7 L705,434.2 L710,435.6 L715,437.6 L720,440 L725,442.5 L730,444.9 L735,447 L740,448.6 L745,449.8 L750,451 L755,452.1 L760,453.2 L765,454.1 L770,454.8 L775,455.3 L780,455.4 L785,455.2 L790,454.5 L795,453.4 L800,452 L805,450.3 L810,448.3"/><path d="M400,618.9 L405,616.3 L410,613.5 L415,610.7 L420,607.7 L425,604.6 L430,601.4 L435,598.1 L440,594.6 L445,591.1 L450,587.4 L455,583.6 L460,579.5 L465,575.2 L470,570.8 L475,566.1 L480,561.4 L485,556.6 L490,551.7 L495,546.8 L500,541.9 L505,537 L510,532.2 L515,527.6 L520,523 L525,518.4 L530,513.7 L535,508.9 L540,504 L545,499.1 L550,494.3 L555,489.7 L560,485.3 L565,481.1 L570,477.2 L575,473.7 L580,470.6 L585,467.8 L590,465 L595,462.4 L600,459.9 L605,457.5 L610,455.2 L615,453.1 L620,451.1 L625,449.4 L630,447.8 L635,446.3 L640,445.1 L645,444.1 L650,443 L655,441.9 L660,440.9 L665,440 L670,439.1 L675,438.3 L680,437.6 L685,437.1 L690,436.6 L695,436.4 L700,436.3 L705,436.8 L710,438.2 L715,440.2 L720,442.6 L725,445.2 L730,447.7 L735,449.9 L740,451.4 L745,452.7 L750,453.9 L755,455.1 L760,456.2 L765,457.2 L770,457.9 L775,458.4 L780,458.6 L785,458.3 L790,457.7 L795,456.6 L800,455.2 L805,453.4 L810,451.4"/><path d="M400,620.6 L405,618 L410,615.3 L415,612.4 L420,609.5 L425,606.4 L430,603.2 L435,599.9 L440,596.4 L445,592.9 L450,589.3 L455,585.5 L460,581.4 L465,577.1 L470,572.7 L475,568.1 L480,563.3 L485,558.5 L490,553.6 L495,548.7 L500,543.9 L505,539 L510,534.2 L515,529.5 L520,525 L525,520.4 L530,515.7 L535,510.9 L540,506 L545,501.2 L550,496.4 L555,491.8 L560,487.3 L565,483.2 L570,479.3 L575,475.8 L580,472.7 L585,469.9 L590,467.2 L595,464.6 L600,462.1 L605,459.7 L610,457.4 L615,455.3 L620,453.4 L625,451.6 L630,450 L635,448.6 L640,447.4 L645,446.4 L650,445.3 L655,444.3 L660,443.3 L665,442.4 L670,441.5 L675,440.8 L680,440.1 L685,439.6 L690,439.2 L695,438.9 L700,438.9 L705,439.4 L710,440.8 L715,442.9 L720,445.3 L725,447.9 L730,450.5 L735,452.7 L740,454.3 L745,455.6 L750,456.9 L755,458.1 L760,459.3 L765,460.2 L770,461 L775,461.5 L780,461.7 L785,461.5 L790,460.8 L795,459.7 L800,458.3 L805,456.6 L810,454.6"/><path d="M400,622.3 L405,619.7 L410,617 L415,614.2 L420,611.2 L425,608.2 L430,605 L435,601.7 L440,598.3 L445,594.8 L450,591.1 L455,587.3 L460,583.3 L465,579 L470,574.6 L475,570 L480,565.3 L485,560.5 L490,555.6 L495,550.7 L500,545.8 L505,541 L510,536.2 L515,531.5 L520,527 L525,522.4 L530,517.7 L535,512.9 L540,508.1 L545,503.2 L550,498.5 L555,493.9 L560,489.4 L565,485.3 L570,481.4 L575,477.9 L580,474.9 L585,472.1 L590,469.4 L595,466.7 L600,464.2 L605,461.9 L610,459.6 L615,457.5 L620,455.6 L625,453.8 L630,452.2 L635,450.9 L640,449.7 L645,448.7 L650,447.7 L655,446.7 L660,445.7 L665,444.8 L670,444 L675,443.3 L680,442.7 L685,442.1 L690,441.8 L695,441.5 L700,441.4 L705,442 L710,443.4 L715,445.5 L720,448 L725,450.7 L730,453.2 L735,455.5 L740,457.1 L745,458.5 L750,459.8 L755,461.1 L760,462.3 L765,463.3 L770,464.1 L775,464.7 L780,464.9 L785,464.6 L790,464 L795,462.9 L800,461.5 L805,459.7 L810,457.7"/><path d="M400,624 L405,621.4 L410,618.8 L415,616 L420,613 L425,610 L430,606.8 L435,603.5 L440,600.1 L445,596.6 L450,593 L455,589.2 L460,585.2 L465,580.9 L470,576.5 L475,571.9 L480,567.2 L485,562.4 L490,557.5 L495,552.6 L500,547.8 L505,542.9 L510,538.2 L515,533.5 L520,529 L525,524.5 L530,519.8 L535,515 L540,510.1 L545,505.3 L550,500.6 L555,495.9 L560,491.5 L565,487.4 L570,483.5 L575,480 L580,477 L585,474.2 L590,471.5 L595,468.9 L600,466.4 L605,464 L610,461.8 L615,459.7 L620,457.8 L625,456 L630,454.5 L635,453.1 L640,452 L645,451 L650,450 L655,449 L660,448.1 L665,447.3 L670,446.5 L675,445.8 L680,445.2 L685,444.7 L690,444.3 L695,444.1 L700,444 L705,444.5 L710,446 L715,448.1 L720,450.7 L725,453.4 L730,456 L735,458.3 L740,460 L745,461.4 L750,462.8 L755,464.1 L760,465.3 L765,466.4 L770,467.2 L775,467.8 L780,468 L785,467.8 L790,467.1 L795,466.1 L800,464.6 L805,462.9 L810,460.9"/></g><g fill="none" stroke="#c8c8c8" stroke-width="0.45" opacity="0.75"><path d="M400,630 L405,627.6 L410,625 L415,622.3 L420,619.4 L425,616.5 L430,613.4 L435,610.2 L440,606.9 L445,603.5 L450,600 L455,596.3 L460,592.3 L465,588.1 L470,583.7 L475,579.2 L480,574.5 L485,569.8 L490,564.9 L495,560.1 L500,555.3 L505,550.6 L510,545.9 L515,541.4 L520,537 L525,532.6 L530,528.1 L535,523.6 L540,518.9 L545,514.4 L550,509.9 L555,505.5 L560,501.4 L565,497.5 L570,494 L575,490.8 L580,488 L585,485.5 L590,483.1 L595,480.7 L600,478.5 L605,476.4 L610,474.4 L615,472.5 L620,470.9 L625,469.3 L630,468 L635,466.9 L640,466 L645,465.2 L650,464.5 L655,463.7 L660,463 L665,462.4 L670,461.8 L675,461.3 L680,460.9 L685,460.5 L690,460.2 L695,460.1 L700,460 L705,460.6 L710,462.3 L715,464.7 L720,467.6 L725,470.7 L730,473.6 L735,476.2 L740,478 L745,479.4 L750,480.8 L755,482.2 L760,483.4 L765,484.4 L770,485.3 L775,485.8 L780,486 L785,485.8 L790,485.1 L795,484.1 L800,482.6 L805,480.9 L810,478.9"/><path d="M400,630.7 L405,628.4 L410,626 L415,623.5 L420,620.8 L425,618 L430,615.2 L435,612.2 L440,609.1 L445,605.9 L450,602.7 L455,599.2 L460,595.5 L465,591.6 L470,587.5 L475,583.2 L480,578.8 L485,574.3 L490,569.8 L495,565.3 L500,560.8 L505,556.3 L510,552 L515,547.7 L520,543.6 L525,539.5 L530,535.3 L535,531 L540,526.6 L545,522.3 L550,518.1 L555,514 L560,510.1 L565,506.5 L570,503.1 L575,500.1 L580,497.5 L585,495.1 L590,492.8 L595,490.6 L600,488.5 L605,486.5 L610,484.6 L615,482.8 L620,481.2 L625,479.8 L630,478.5 L635,477.5 L640,476.6 L645,475.9 L650,475.1 L655,474.4 L660,473.8 L665,473.1 L670,472.6 L675,472.1 L680,471.6 L685,471.3 L690,471 L695,470.9 L700,470.8 L705,471.4 L710,473 L715,475.2 L720,477.9 L725,480.8 L730,483.6 L735,486 L740,487.7 L745,489.1 L750,490.4 L755,491.7 L760,492.9 L765,494 L770,494.8 L775,495.4 L780,495.6 L785,495.4 L790,494.9 L795,494 L800,492.7 L805,491.1 L810,489.3"/><path d="M400,631.3 L405,629.2 L410,627 L415,624.6 L420,622.2 L425,619.6 L430,617 L435,614.2 L440,611.3 L445,608.4 L450,605.3 L455,602.1 L460,598.7 L465,595 L470,591.2 L475,587.2 L480,583.1 L485,578.9 L490,574.7 L495,570.5 L500,566.3 L505,562.1 L510,558 L515,554 L520,550.2 L525,546.4 L530,542.4 L535,538.4 L540,534.3 L545,530.3 L550,526.3 L555,522.5 L560,518.8 L565,515.4 L570,512.2 L575,509.4 L580,506.9 L585,504.7 L590,502.5 L595,500.5 L600,498.5 L605,496.6 L610,494.8 L615,493.1 L620,491.6 L625,490.2 L630,489 L635,488 L640,487.2 L645,486.5 L650,485.8 L655,485.1 L660,484.5 L665,483.9 L670,483.3 L675,482.8 L680,482.4 L685,482.1 L690,481.8 L695,481.7 L700,481.6 L705,482.1 L710,483.6 L715,485.7 L720,488.3 L725,491 L730,493.6 L735,495.8 L740,497.5 L745,498.7 L750,500 L755,501.3 L760,502.5 L765,503.5 L770,504.3 L775,504.9 L780,505.2 L785,505.1 L790,504.7 L795,503.9 L800,502.8 L805,501.4 L810,499.8"/><path d="M400,632 L405,630 L410,628 L415,625.8 L420,623.6 L425,621.2 L430,618.7 L435,616.2 L440,613.5 L445,610.8 L450,608 L455,605 L460,601.8 L465,598.4 L470,594.9 L475,591.2 L480,587.4 L485,583.5 L490,579.6 L495,575.7 L500,571.8 L505,567.9 L510,564.1 L515,560.4 L520,556.8 L525,553.2 L530,549.5 L535,545.8 L540,542 L545,538.2 L550,534.5 L555,530.9 L560,527.5 L565,524.3 L570,521.4 L575,518.7 L580,516.4 L585,514.3 L590,512.3 L595,510.3 L600,508.4 L605,506.6 L610,505 L615,503.4 L620,502 L625,500.7 L630,499.6 L635,498.6 L640,497.8 L645,497.1 L650,496.4 L655,495.8 L660,495.2 L665,494.6 L670,494.1 L675,493.6 L680,493.2 L685,492.9 L690,492.6 L695,492.5 L700,492.4 L705,492.9 L710,494.3 L715,496.3 L720,498.6 L725,501.1 L730,503.6 L735,505.7 L740,507.2 L745,508.4 L750,509.7 L755,510.9 L760,512 L765,513 L770,513.9 L775,514.5 L780,514.8 L785,514.8 L790,514.4 L795,513.8 L800,512.8 L805,511.6 L810,510.2"/><path d="M400,632.7 L405,630.9 L410,629 L415,627 L420,624.9 L425,622.8 L430,620.5 L435,618.2 L440,615.7 L445,613.2 L450,610.7 L455,607.9 L460,605 L465,601.9 L470,598.6 L475,595.2 L480,591.7 L485,588.1 L490,584.5 L495,580.9 L500,577.2 L505,573.7 L510,570.1 L515,566.7 L520,563.4 L525,560.1 L530,556.7 L535,553.2 L540,549.7 L545,546.2 L550,542.7 L555,539.4 L560,536.2 L565,533.2 L570,530.5 L575,528 L580,525.9 L585,523.9 L590,522 L595,520.2 L600,518.4 L605,516.7 L610,515.2 L615,513.7 L620,512.3 L625,511.1 L630,510.1 L635,509.1 L640,508.4 L645,507.7 L650,507.1 L655,506.5 L660,505.9 L665,505.3 L670,504.8 L675,504.4 L680,504 L685,503.6 L690,503.4 L695,503.3 L700,503.2 L705,503.7 L710,504.9 L715,506.8 L720,509 L725,511.3 L730,513.5 L735,515.5 L740,516.9 L745,518.1 L750,519.3 L755,520.4 L760,521.6 L765,522.6 L770,523.4 L775,524 L780,524.4 L785,524.5 L790,524.2 L795,523.7 L800,522.9 L805,521.9 L810,520.7"/><path d="M400,633.3 L405,631.7 L410,630 L415,628.2 L420,626.3 L425,624.3 L430,622.3 L435,620.1 L440,617.9 L445,615.7 L450,613.3 L455,610.9 L460,608.2 L465,605.3 L470,602.3 L475,599.2 L480,596 L485,592.7 L490,589.4 L495,586.1 L500,582.7 L505,579.4 L510,576.2 L515,573 L520,570 L525,567 L530,563.8 L535,560.6 L540,557.4 L545,554.1 L550,551 L555,547.9 L560,544.9 L565,542.2 L570,539.6 L575,537.3 L580,535.3 L585,533.5 L590,531.7 L595,530 L600,528.4 L605,526.8 L610,525.4 L615,524 L620,522.7 L625,521.6 L630,520.6 L635,519.7 L640,519 L645,518.4 L650,517.8 L655,517.2 L660,516.6 L665,516.1 L670,515.6 L675,515.1 L680,514.7 L685,514.4 L690,514.2 L695,514.1 L700,514 L705,514.4 L710,515.6 L715,517.3 L720,519.3 L725,521.4 L730,523.5 L735,525.3 L740,526.7 L745,527.8 L750,528.9 L755,530 L760,531.1 L765,532.1 L770,532.9 L775,533.6 L780,534 L785,534.1 L790,534 L795,533.6 L800,533 L805,532.1 L810,531.1"/><path d="M400,634 L405,632.5 L410,631 L415,629.4 L420,627.7 L425,625.9 L430,624 L435,622.1 L440,620.2 L445,618.1 L450,616 L455,613.8 L460,611.3 L465,608.8 L470,606 L475,603.2 L480,600.3 L485,597.3 L490,594.3 L495,591.2 L500,588.2 L505,585.2 L510,582.2 L515,579.4 L520,576.6 L525,573.8 L530,570.9 L535,568 L540,565 L545,562.1 L550,559.2 L555,556.4 L560,553.7 L565,551.1 L570,548.8 L575,546.6 L580,544.8 L585,543.1 L590,541.5 L595,539.9 L600,538.4 L605,536.9 L610,535.5 L615,534.3 L620,533.1 L625,532 L630,531.1 L635,530.3 L640,529.6 L645,529 L650,528.4 L655,527.8 L660,527.3 L665,526.8 L670,526.3 L675,525.9 L680,525.5 L685,525.2 L690,525 L695,524.8 L700,524.8 L705,525.2 L710,526.2 L715,527.8 L720,529.6 L725,531.6 L730,533.5 L735,535.2 L740,536.4 L745,537.4 L750,538.5 L755,539.6 L760,540.6 L765,541.6 L770,542.5 L775,543.1 L780,543.6 L785,543.8 L790,543.8 L795,543.5 L800,543 L805,542.4 L810,541.6"/><path d="M400,634.7 L405,633.4 L410,632 L415,630.5 L420,629 L425,627.5 L430,625.8 L435,624.1 L440,622.4 L445,620.5 L450,618.7 L455,616.7 L460,614.5 L465,612.2 L470,609.8 L475,607.2 L480,604.6 L485,601.9 L490,599.2 L495,596.4 L500,593.7 L505,591 L510,588.3 L515,585.7 L520,583.2 L525,580.7 L530,578.1 L535,575.4 L540,572.7 L545,570 L550,567.4 L555,564.8 L560,562.4 L565,560 L570,557.9 L575,556 L580,554.3 L585,552.7 L590,551.2 L595,549.8 L600,548.3 L605,547 L610,545.7 L615,544.6 L620,543.5 L625,542.5 L630,541.6 L635,540.8 L640,540.2 L645,539.6 L650,539.1 L655,538.5 L660,538 L665,537.5 L670,537.1 L675,536.6 L680,536.3 L685,536 L690,535.8 L695,535.6 L700,535.6 L705,536 L710,536.9 L715,538.3 L720,540 L725,541.7 L730,543.5 L735,545 L740,546.1 L745,547.1 L750,548.1 L755,549.2 L760,550.2 L765,551.1 L770,552 L775,552.7 L780,553.2 L785,553.5 L790,553.5 L795,553.4 L800,553.1 L805,552.6 L810,552"/><path d="M400,635.3 L405,634.2 L410,633 L415,631.7 L420,630.4 L425,629 L430,627.6 L435,626.1 L440,624.6 L445,623 L450,621.3 L455,619.6 L460,617.7 L465,615.6 L470,613.5 L475,611.2 L480,608.9 L485,606.5 L490,604.1 L495,601.6 L500,599.2 L505,596.7 L510,594.4 L515,592 L520,589.8 L525,587.6 L530,585.2 L535,582.8 L540,580.4 L545,578 L550,575.6 L555,573.3 L560,571.1 L565,569 L570,567 L575,565.3 L580,563.7 L585,562.3 L590,560.9 L595,559.6 L600,558.3 L605,557.1 L610,555.9 L615,554.8 L620,553.8 L625,552.9 L630,552.1 L635,551.4 L640,550.8 L645,550.3 L650,549.7 L655,549.2 L660,548.7 L665,548.2 L670,547.8 L675,547.4 L680,547.1 L685,546.8 L690,546.6 L695,546.4 L700,546.4 L705,546.7 L710,547.6 L715,548.8 L720,550.3 L725,551.9 L730,553.4 L735,554.8 L740,555.9 L745,556.8 L750,557.7 L755,558.7 L760,559.7 L765,560.7 L770,561.5 L775,562.3 L780,562.8 L785,563.1 L790,563.3 L795,563.3 L800,563.2 L805,562.9 L810,562.5"/><path d="M400,636 L405,635 L410,634 L415,632.9 L420,631.8 L425,630.6 L430,629.4 L435,628.1 L440,626.8 L445,625.4 L450,624 L455,622.5 L460,620.9 L465,619.1 L470,617.2 L475,615.2 L480,613.2 L485,611.1 L490,609 L495,606.8 L500,604.6 L505,602.5 L510,600.4 L515,598.4 L520,596.4 L525,594.4 L530,592.4 L535,590.2 L540,588.1 L545,586 L550,583.8 L555,581.8 L560,579.8 L565,577.9 L570,576.2 L575,574.6 L580,573.2 L585,571.9 L590,570.7 L595,569.5 L600,568.3 L605,567.2 L610,566.1 L615,565.1 L620,564.2 L625,563.4 L630,562.6 L635,562 L640,561.4 L645,560.9 L650,560.4 L655,559.9 L660,559.4 L665,559 L670,558.5 L675,558.2 L680,557.8 L685,557.6 L690,557.4 L695,557.2 L700,557.2 L705,557.5 L710,558.2 L715,559.3 L720,560.6 L725,562 L730,563.4 L735,564.6 L740,565.6 L745,566.4 L750,567.4 L755,568.3 L760,569.3 L765,570.2 L770,571.1 L775,571.8 L780,572.4 L785,572.8 L790,573.1 L795,573.2 L800,573.2 L805,573.1 L810,572.9"/><path d="M400,636.7 L405,635.9 L410,635 L415,634.1 L420,633.1 L425,632.2 L430,631.1 L435,630.1 L440,629 L445,627.8 L450,626.7 L455,625.4 L460,624 L465,622.5 L470,620.9 L475,619.2 L480,617.5 L485,615.7 L490,613.8 L495,612 L500,610.1 L505,608.3 L510,606.5 L515,604.7 L520,603 L525,601.3 L530,599.5 L535,597.7 L540,595.8 L545,593.9 L550,592 L555,590.2 L560,588.5 L565,586.8 L570,585.3 L575,583.9 L580,582.7 L585,581.5 L590,580.4 L595,579.3 L600,578.3 L605,577.3 L610,576.3 L615,575.4 L620,574.6 L625,573.8 L630,573.1 L635,572.5 L640,572 L645,571.5 L650,571.1 L655,570.6 L660,570.1 L665,569.7 L670,569.3 L675,568.9 L680,568.6 L685,568.4 L690,568.2 L695,568 L700,568 L705,568.2 L710,568.9 L715,569.8 L720,571 L725,572.2 L730,573.4 L735,574.5 L740,575.3 L745,576.1 L750,577 L755,577.9 L760,578.8 L765,579.7 L770,580.6 L775,581.4 L780,582 L785,582.5 L790,582.9 L795,583.1 L800,583.3 L805,583.4 L810,583.4"/><path d="M400,637.3 L405,636.7 L410,636 L415,635.3 L420,634.5 L425,633.7 L430,632.9 L435,632.1 L440,631.2 L445,630.3 L450,629.3 L455,628.3 L460,627.2 L465,626 L470,624.6 L475,623.2 L480,621.8 L485,620.3 L490,618.7 L495,617.2 L500,615.6 L505,614.1 L510,612.5 L515,611 L520,609.6 L525,608.1 L530,606.6 L535,605.1 L540,603.5 L545,601.9 L550,600.3 L555,598.7 L560,597.2 L565,595.8 L570,594.4 L575,593.2 L580,592.1 L585,591.1 L590,590.1 L595,589.2 L600,588.3 L605,587.4 L610,586.5 L615,585.7 L620,585 L625,584.3 L630,583.6 L635,583.1 L640,582.6 L645,582.2 L650,581.7 L655,581.3 L660,580.8 L665,580.4 L670,580 L675,579.7 L680,579.4 L685,579.1 L690,579 L695,578.8 L700,578.8 L705,579 L710,579.5 L715,580.3 L720,581.3 L725,582.3 L730,583.4 L735,584.3 L740,585.1 L745,585.8 L750,586.6 L755,587.5 L760,588.4 L765,589.3 L770,590.1 L775,590.9 L780,591.6 L785,592.2 L790,592.6 L795,593 L800,593.4 L805,593.6 L810,593.8"/><path d="M400,638 L405,637.5 L410,637 L415,636.5 L420,635.9 L425,635.3 L430,634.7 L435,634 L440,633.4 L445,632.7 L450,632 L455,631.2 L460,630.4 L465,629.4 L470,628.4 L475,627.2 L480,626.1 L485,624.9 L490,623.6 L495,622.4 L500,621.1 L505,619.8 L510,618.6 L515,617.4 L520,616.2 L525,615 L530,613.8 L535,612.5 L540,611.1 L545,609.8 L550,608.5 L555,607.2 L560,605.9 L565,604.7 L570,603.6 L575,602.5 L580,601.6 L585,600.7 L590,599.9 L595,599 L600,598.2 L605,597.5 L610,596.7 L615,596 L620,595.3 L625,594.7 L630,594.1 L635,593.6 L640,593.2 L645,592.8 L650,592.4 L655,592 L660,591.5 L665,591.2 L670,590.8 L675,590.5 L680,590.2 L685,589.9 L690,589.8 L695,589.6 L700,589.6 L705,589.8 L710,590.2 L715,590.8 L720,591.6 L725,592.5 L730,593.3 L735,594.1 L740,594.8 L745,595.4 L750,596.2 L755,597 L760,597.9 L765,598.8 L770,599.7 L775,600.5 L780,601.2 L785,601.8 L790,602.4 L795,602.9 L800,603.4 L805,603.9 L810,604.3"/><path d="M400,638.7 L405,638.3 L410,638 L415,637.6 L420,637.3 L425,636.9 L430,636.5 L435,636 L440,635.6 L445,635.1 L450,634.7 L455,634.1 L460,633.5 L465,632.8 L470,632.1 L475,631.2 L480,630.4 L485,629.5 L490,628.5 L495,627.5 L500,626.6 L505,625.6 L510,624.6 L515,623.7 L520,622.8 L525,621.9 L530,620.9 L535,619.9 L540,618.8 L545,617.8 L550,616.7 L555,615.6 L560,614.6 L565,613.6 L570,612.7 L575,611.8 L580,611.1 L585,610.3 L590,609.6 L595,608.9 L600,608.2 L605,607.5 L610,606.9 L615,606.3 L620,605.7 L625,605.2 L630,604.7 L635,604.2 L640,603.8 L645,603.4 L650,603 L655,602.6 L660,602.3 L665,601.9 L670,601.5 L675,601.2 L680,600.9 L685,600.7 L690,600.5 L695,600.4 L700,600.4 L705,600.5 L710,600.9 L715,601.3 L720,602 L725,602.6 L730,603.3 L735,604 L740,604.5 L745,605.1 L750,605.8 L755,606.6 L760,607.5 L765,608.3 L770,609.2 L775,610 L780,610.8 L785,611.5 L790,612.2 L795,612.9 L800,613.5 L805,614.1 L810,614.7"/><path d="M400,639.3 L405,639.2 L410,639 L415,638.8 L420,638.6 L425,638.4 L430,638.2 L435,638 L440,637.8 L445,637.6 L450,637.3 L455,637.1 L460,636.7 L465,636.3 L470,635.8 L475,635.2 L480,634.7 L485,634 L490,633.4 L495,632.7 L500,632.1 L505,631.4 L510,630.7 L515,630 L520,629.4 L525,628.7 L530,628 L535,627.3 L540,626.5 L545,625.7 L550,624.9 L555,624.1 L560,623.3 L565,622.6 L570,621.8 L575,621.2 L580,620.5 L585,619.9 L590,619.4 L595,618.8 L600,618.2 L605,617.6 L610,617.1 L615,616.6 L620,616.1 L625,615.6 L630,615.2 L635,614.8 L640,614.4 L645,614 L650,613.7 L655,613.3 L660,613 L665,612.6 L670,612.3 L675,612 L680,611.7 L685,611.5 L690,611.3 L695,611.2 L700,611.2 L705,611.3 L710,611.5 L715,611.9 L720,612.3 L725,612.8 L730,613.3 L735,613.8 L740,614.3 L745,614.8 L750,615.4 L755,616.2 L760,617 L765,617.9 L770,618.7 L775,619.6 L780,620.4 L785,621.2 L790,622 L795,622.8 L800,623.6 L805,624.3 L810,625.1"/><path d="M400,640 L405,640 L410,640 L415,640 L420,640 L425,640 L430,640 L435,640 L440,640 L445,640 L450,640 L455,640 L460,639.9 L465,639.7 L470,639.5 L475,639.3 L480,639 L485,638.6 L490,638.3 L495,637.9 L500,637.5 L505,637.2 L510,636.8 L515,636.4 L520,636 L525,635.6 L530,635.2 L535,634.7 L540,634.2 L545,633.7 L550,633.1 L555,632.6 L560,632 L565,631.5 L570,631 L575,630.5 L580,630 L585,629.5 L590,629.1 L595,628.6 L600,628.2 L605,627.7 L610,627.3 L615,626.9 L620,626.4 L625,626.1 L630,625.7 L635,625.3 L640,625 L645,624.7 L650,624.3 L655,624 L660,623.7 L665,623.3 L670,623 L675,622.7 L680,622.5 L685,622.3 L690,622.1 L695,622 L700,622 L705,622 L710,622.2 L715,622.4 L720,622.6 L725,622.9 L730,623.3 L735,623.6 L740,624 L745,624.5 L750,625 L755,625.7 L760,626.5 L765,627.4 L770,628.3 L775,629.1 L780,630 L785,630.9 L790,631.7 L795,632.7 L800,633.6 L805,634.6 L810,635.6"/></g></g></svg>
<svg width="812" height="609" viewBox="0 0 812 609"><polyline points="580.7,221.7 631.1,225.6 633,256.6 648.6,258.5" fill="none" stroke="#765cb6" stroke-width="1.35" stroke-linejoin="round" stroke-linecap="round" /><polyline points="580.7,221.7 631.1,225.6 633,256.6 648.6,258.5" fill="none" stroke="#b9a8e4" stroke-width="0.54" stroke-linejoin="round" stroke-linecap="round" /><polyline points="613.7,224.6 614.6,256.6 576.8,312.8" fill="none" stroke="#765cb6" stroke-width="1.35" stroke-linejoin="round" stroke-linecap="round" /><polyline points="613.7,224.6 614.6,256.6 576.8,312.8" fill="none" stroke="#b9a8e4" stroke-width="0.54" stroke-linejoin="round" stroke-linecap="round" /><polyline points="578,241 578,259.3 562.7,259.3" fill="none" stroke="#765cb6" stroke-width="1.35" stroke-linejoin="round" stroke-linecap="round" /><polyline points="578,241 578,259.3 562.7,259.3" fill="none" stroke="#b9a8e4" stroke-width="0.54" stroke-linejoin="round" stroke-linecap="round" /><polyline points="572.3,263 589.3,264.6 559.5,312.6" fill="none" stroke="#765cb6" stroke-width="1.35" stroke-linejoin="round" stroke-linecap="round" /><polyline points="572.3,263 589.3,264.6 559.5,312.6" fill="none" stroke="#b9a8e4" stroke-width="0.54" stroke-linejoin="round" stroke-linecap="round" /><polyline points="561.6,267.8 561.6,283.8 544.5,283.8" fill="none" stroke="#765cb6" stroke-width="1.35" stroke-linejoin="round" stroke-linecap="round" /><polyline points="561.6,267.8 561.6,283.8 544.5,283.8" fill="none" stroke="#b9a8e4" stroke-width="0.54" stroke-linejoin="round" stroke-linecap="round" /><polyline points="556.3,288 573.3,289.1" fill="none" stroke="#765cb6" stroke-width="1.35" stroke-linejoin="round" stroke-linecap="round" /><polyline points="556.3,288 573.3,289.1" fill="none" stroke="#b9a8e4" stroke-width="0.54" stroke-linejoin="round" stroke-linecap="round" /><polyline points="545.6,279.5 545.6,308.3 529.6,308.3" fill="none" stroke="#765cb6" stroke-width="1.35" stroke-linejoin="round" stroke-linecap="round" /><polyline points="545.6,279.5 545.6,308.3 529.6,308.3" fill="none" stroke="#b9a8e4" stroke-width="0.54" stroke-linejoin="round" stroke-linecap="round" /><polyline points="529.6,311.5 588.3,315.8 640.8,320.6 658.3,293.4 648.6,291.5" fill="none" stroke="#765cb6" stroke-width="1.35" stroke-linejoin="round" stroke-linecap="round" /><polyline points="529.6,311.5 588.3,315.8 640.8,320.6 658.3,293.4 648.6,291.5" fill="none" stroke="#b9a8e4" stroke-width="0.54" stroke-linejoin="round" stroke-linecap="round" /><polyline points="598.2,309 613.7,289.5 622,290" fill="none" stroke="#765cb6" stroke-width="1.35" stroke-linejoin="round" stroke-linecap="round" /><polyline points="598.2,309 613.7,289.5 622,290" fill="none" stroke="#b9a8e4" stroke-width="0.54" stroke-linejoin="round" stroke-linecap="round" /><polyline points="685.3,261.4 718.6,263.8" fill="none" stroke="#765cb6" stroke-width="1.35" stroke-linejoin="round" stroke-linecap="round" /><polyline points="685.3,261.4 718.6,263.8" fill="none" stroke="#b9a8e4" stroke-width="0.54" stroke-linejoin="round" stroke-linecap="round" /><polyline points="756.8,267 762.3,267.8 745.6,294.8 679.7,290" fill="none" stroke="#765cb6" stroke-width="1.35" stroke-linejoin="round" stroke-linecap="round" /><polyline points="756.8,267 762.3,267.8 745.6,294.8 679.7,290" fill="none" stroke="#b9a8e4" stroke-width="0.54" stroke-linejoin="round" stroke-linecap="round" /><polyline points="652.7,304.3 716.3,309.1 722,301" fill="none" stroke="#765cb6" stroke-width="1.35" stroke-linejoin="round" stroke-linecap="round" /><polyline points="652.7,304.3 716.3,309.1 722,301" fill="none" stroke="#b9a8e4" stroke-width="0.54" stroke-linejoin="round" stroke-linecap="round" /><polyline points="657.5,292.4 644.8,316.3" fill="none" stroke="#765cb6" stroke-width="1.35" stroke-linejoin="round" stroke-linecap="round" /><polyline points="657.5,292.4 644.8,316.3" fill="none" stroke="#b9a8e4" stroke-width="0.54" stroke-linejoin="round" stroke-linecap="round" /><polyline points="674.2,300 670.2,305.5" fill="none" stroke="#765cb6" stroke-width="1.35" stroke-linejoin="round" stroke-linecap="round" /><polyline points="674.2,300 670.2,305.5" fill="none" stroke="#b9a8e4" stroke-width="0.54" stroke-linejoin="round" stroke-linecap="round" /><polyline points="689.2,300.6 685.2,306.3" fill="none" stroke="#765cb6" stroke-width="1.35" stroke-linejoin="round" stroke-linecap="round" /><polyline points="689.2,300.6 685.2,306.3" fill="none" stroke="#b9a8e4" stroke-width="0.54" stroke-linejoin="round" stroke-linecap="round" /><polyline points="704.3,301.2 700.3,307.1" fill="none" stroke="#765cb6" stroke-width="1.35" stroke-linejoin="round" stroke-linecap="round" /><polyline points="704.3,301.2 700.3,307.1" fill="none" stroke="#b9a8e4" stroke-width="0.54" stroke-linejoin="round" stroke-linecap="round" /><polyline points="719.4,301.8 715.4,307.9" fill="none" stroke="#765cb6" stroke-width="1.35" stroke-linejoin="round" stroke-linecap="round" /><polyline points="719.4,301.8 715.4,307.9" fill="none" stroke="#b9a8e4" stroke-width="0.54" stroke-linejoin="round" stroke-linecap="round" /><polyline points="480,285.3 480.2,313.6 552.1,319.6 553.6,340.2 650.5,348.3 655,343" fill="none" stroke="#b87a38" stroke-width="2.5999999999999996" stroke-linejoin="round" stroke-linecap="round" /><polyline points="480,285.3 480.2,313.6 552.1,319.6 553.6,340.2 650.5,348.3 655,343" fill="none" stroke="#e4a654" stroke-width="1.4" stroke-linejoin="round" stroke-linecap="round" /><polyline points="467.9,340.2 535.1,346.2 536.6,366.8 644.6,375.6" fill="none" stroke="#b87a38" stroke-width="2.5999999999999996" stroke-linejoin="round" stroke-linecap="round" /><polyline points="467.9,340.2 535.1,346.2 536.6,366.8 644.6,375.6" fill="none" stroke="#e4a654" stroke-width="1.4" stroke-linejoin="round" stroke-linecap="round" /><polyline points="447.7,320.9 523.3,327.7" fill="none" stroke="#b87a38" stroke-width="2.3" stroke-linejoin="round" stroke-linecap="round" /><polyline points="447.7,320.9 523.3,327.7" fill="none" stroke="#e4a654" stroke-width="1.1" stroke-linejoin="round" stroke-linecap="round" /><polyline points="459.2,305.4 490.8,307.7" fill="none" stroke="#b87a38" stroke-width="2.2" stroke-linejoin="round" stroke-linecap="round" /><polyline points="459.2,305.4 490.8,307.7" fill="none" stroke="#e4a654" stroke-width="1.0" stroke-linejoin="round" stroke-linecap="round" /><polyline points="517.4,224.5 480,285.3" fill="none" stroke="#a85f1c" stroke-width="1.6" stroke-linejoin="round" stroke-linecap="round" /><polyline points="490.3,256 447.7,320.9" fill="none" stroke="#a85f1c" stroke-width="1.6" stroke-linejoin="round" stroke-linecap="round" /><polyline points="485.4,275.6 486,304 491,305" fill="none" stroke="#b87a38" stroke-width="2.2" stroke-linejoin="round" stroke-linecap="round" /><polyline points="485.4,275.6 486,304 491,305" fill="none" stroke="#e4a654" stroke-width="1.0" stroke-linejoin="round" stroke-linecap="round" /><polyline points="518.8,247 519,255 523,256.5" fill="none" stroke="#b87a38" stroke-width="2.0999999999999996" stroke-linejoin="round" stroke-linecap="round" /><polyline points="518.8,247 519,255 523,256.5" fill="none" stroke="#e4a654" stroke-width="0.8999999999999999" stroke-linejoin="round" stroke-linecap="round" /><polyline points="502.6,271 502.8,279 507,280.5" fill="none" stroke="#b87a38" stroke-width="2.0999999999999996" stroke-linejoin="round" stroke-linecap="round" /><polyline points="502.6,271 502.8,279 507,280.5" fill="none" stroke="#e4a654" stroke-width="0.8999999999999999" stroke-linejoin="round" stroke-linecap="round" /><polyline points="503.4,257.5 522.4,258.5" fill="none" stroke="#b87a38" stroke-width="2.2" stroke-linejoin="round" stroke-linecap="round" /><polyline points="503.4,257.5 522.4,258.5" fill="none" stroke="#e4a654" stroke-width="1.0" stroke-linejoin="round" stroke-linecap="round" /><polyline points="487.4,282 506.2,283" fill="none" stroke="#b87a38" stroke-width="2.2" stroke-linejoin="round" stroke-linecap="round" /><polyline points="487.4,282 506.2,283" fill="none" stroke="#e4a654" stroke-width="1.0" stroke-linejoin="round" stroke-linecap="round" /><rect x="575.8" y="236.3" width="13" height="6" rx="2" fill="url(#gblue)"/><rect x="576.1" y="236.7" width="2.2" height="5.2" fill="#1a3a5e"/><rect x="585" y="235.1" width="2.4" height="8.4" fill="#c4c8d6"/><path d="M519.8,239.7 q-3,0.5 -3,5 q0,5 3,6.5" stroke="#17181c" stroke-width="1.5" fill="none"/><path d="M562.2,242.2 q3,0.5 3,4.5 q0,4.5 -3,5.5" stroke="#17181c" stroke-width="1.5" fill="none"/><rect x="520.6" y="245.4" width="9" height="8" rx="3" fill="#222329"/><rect x="551.2" y="247.7" width="10" height="8" rx="3" fill="#222329"/><rect x="522.2" y="233.2" width="1.6" height="19" fill="#b3b7d6"/><rect x="527.2" y="233.2" width="1.6" height="19" fill="#b3b7d6"/><rect x="550.7" y="233.2" width="1.6" height="19" fill="#b3b7d6"/><rect x="555.2" y="233.2" width="1.6" height="19" fill="#b3b7d6"/><ellipse cx="525" cy="242" rx="2.2" ry="4.4" fill="url(#gblue3)"/><rect x="554.2" y="239.7" width="9" height="8" rx="3" fill="url(#gblue)"/><polygon points="527.2,230.7 535.2,231.5 532.7,242 524.7,241.2" fill="#7f839f"/><polygon points="527.2,230.7 535.2,231.5 534.7,233.4 526.7,232.6" fill="#b2b6d0"/><polygon points="550.7,232.7 558.2,233.4 555.7,242.9 548.2,242.2" fill="#7f839f"/><polygon points="550.7,232.7 558.2,233.4 557.7,235.3 550.2,234.6" fill="#b2b6d0"/><polygon points="529.2,240.1 549.7,240.7 549.2,242.7 530.2,242.7" fill="#e6e7ef"/><rect x="530.2" y="242.7" width="19" height="14.3" fill="#cdcfdb"/><rect x="539.2" y="242.7" width="0.9" height="14.3" fill="#8e90a2"/><rect x="532.2" y="246.7" width="1.1" height="1.1" fill="#d33"/><polygon points="521.4,255.2 572.6,260.7 572.6,265.7 521.4,262.4" fill="url(#gblue2)"/><ellipse cx="521.4" cy="258.8" rx="1.4" ry="3.6" fill="#2a6fc0"/><polygon points="559.2,260.2 572.6,261.4 572.6,266.4 559.2,265.2" fill="url(#gblue)"/><rect x="557.7" y="258.7" width="2" height="7.5" fill="#c9cddb"/><rect x="506.8" y="230.6" width="13" height="6" rx="2" fill="url(#gblue)"/><rect x="507.1" y="231" width="2.2" height="5.2" fill="#1a3a5e"/><rect x="516" y="229.4" width="2.4" height="8.4" fill="#c4c8d6"/><path d="M503.8,264.5 q-3,0.5 -3,5 q0,5 3,6.5" stroke="#17181c" stroke-width="1.5" fill="none"/><path d="M546.2,267 q3,0.5 3,4.5 q0,4.5 -3,5.5" stroke="#17181c" stroke-width="1.5" fill="none"/><rect x="504.6" y="270.2" width="9" height="8" rx="3" fill="#222329"/><rect x="535.2" y="272.5" width="10" height="8" rx="3" fill="#222329"/><rect x="506.2" y="258" width="1.6" height="19" fill="#b3b7d6"/><rect x="511.2" y="258" width="1.6" height="19" fill="#b3b7d6"/><rect x="534.7" y="258" width="1.6" height="19" fill="#b3b7d6"/><rect x="539.2" y="258" width="1.6" height="19" fill="#b3b7d6"/><ellipse cx="509" cy="266.8" rx="2.2" ry="4.4" fill="url(#gblue3)"/><rect x="538.2" y="264.5" width="9" height="8" rx="3" fill="url(#gblue)"/><polygon points="511.2,255.5 519.2,256.3 516.7,266.8 508.7,266" fill="#7f839f"/><polygon points="511.2,255.5 519.2,256.3 518.7,258.2 510.7,257.4" fill="#b2b6d0"/><polygon points="534.7,257.5 542.2,258.2 539.7,267.7 532.2,267" fill="#7f839f"/><polygon points="534.7,257.5 542.2,258.2 541.7,260.1 534.2,259.4" fill="#b2b6d0"/><polygon points="513.2,264.9 533.7,265.5 533.2,267.5 514.2,267.5" fill="#e6e7ef"/><rect x="514.2" y="267.5" width="19" height="14.3" fill="#cdcfdb"/><rect x="523.2" y="267.5" width="0.9" height="14.3" fill="#8e90a2"/><rect x="516.2" y="271.5" width="1.1" height="1.1" fill="#d33"/><polygon points="505.4,280 556.6,285.5 556.6,290.5 505.4,287.2" fill="url(#gblue2)"/><ellipse cx="505.4" cy="283.6" rx="1.4" ry="3.6" fill="#2a6fc0"/><polygon points="543.2,285 556.6,286.2 556.6,291.2 543.2,290" fill="url(#gblue)"/><rect x="541.7" y="283.5" width="2" height="7.5" fill="#c9cddb"/><rect x="490.6" y="255.2" width="13" height="6" rx="2" fill="url(#gblue)"/><rect x="490.9" y="255.6" width="2.2" height="5.2" fill="#1a3a5e"/><rect x="499.8" y="254" width="2.4" height="8.4" fill="#c4c8d6"/><path d="M487.6,288.5 q-3,0.5 -3,5 q0,5 3,6.5" stroke="#17181c" stroke-width="1.5" fill="none"/><path d="M530,291 q3,0.5 3,4.5 q0,4.5 -3,5.5" stroke="#17181c" stroke-width="1.5" fill="none"/><rect x="488.4" y="294.2" width="9" height="8" rx="3" fill="#222329"/><rect x="519" y="296.5" width="10" height="8" rx="3" fill="#222329"/><rect x="490" y="282" width="1.6" height="19" fill="#b3b7d6"/><rect x="495" y="282" width="1.6" height="19" fill="#b3b7d6"/><rect x="518.5" y="282" width="1.6" height="19" fill="#b3b7d6"/><rect x="523" y="282" width="1.6" height="19" fill="#b3b7d6"/><ellipse cx="492.8" cy="290.8" rx="2.2" ry="4.4" fill="url(#gblue3)"/><rect x="522" y="288.5" width="9" height="8" rx="3" fill="url(#gblue)"/><polygon points="495,279.5 503,280.3 500.5,290.8 492.5,290" fill="#7f839f"/><polygon points="495,279.5 503,280.3 502.5,282.2 494.5,281.4" fill="#b2b6d0"/><polygon points="518.5,281.5 526,282.2 523.5,291.7 516,291" fill="#7f839f"/><polygon points="518.5,281.5 526,282.2 525.5,284.1 518,283.4" fill="#b2b6d0"/><polygon points="497,288.9 517.5,289.5 517,291.5 498,291.5" fill="#e6e7ef"/><rect x="498" y="291.5" width="19" height="14.3" fill="#cdcfdb"/><rect x="507" y="291.5" width="0.9" height="14.3" fill="#8e90a2"/><rect x="500" y="295.5" width="1.1" height="1.1" fill="#d33"/><polygon points="489.2,304 530,309.5 530,314.5 489.2,311.2" fill="url(#gblue2)"/><ellipse cx="489.2" cy="307.6" rx="1.4" ry="3.6" fill="#2a6fc0"/><rect x="474.5" y="279.8" width="13" height="6" rx="2" fill="url(#gblue)"/><rect x="474.8" y="280.2" width="2.2" height="5.2" fill="#1a3a5e"/><rect x="483.7" y="278.6" width="2.4" height="8.4" fill="#c4c8d6"/><polyline points="580.7,221.7 545.6,279.5" fill="none" stroke="#765cb6" stroke-width="1.35" stroke-linejoin="round" stroke-linecap="round" /><polyline points="580.7,221.7 545.6,279.5" fill="none" stroke="#b9a8e4" stroke-width="0.54" stroke-linejoin="round" stroke-linecap="round" /><polyline points="468.5,340.5 471.5,335.5" fill="none" stroke="#b87a38" stroke-width="2.0" stroke-linejoin="round" stroke-linecap="round" /><polyline points="468.5,340.5 471.5,335.5" fill="none" stroke="#e4a654" stroke-width="0.8" stroke-linejoin="round" stroke-linecap="round" /><rect x="469" y="311.8" width="6" height="2.6" rx="1.3" fill="#2e9a4e"/><rect x="469" y="313.4" width="6" height="9" fill="url(#gdark)"/><rect x="470.5" y="315.8" width="1.6" height="2" fill="#2a7fd0"/><rect x="469.5" y="322.3" width="5" height="5" fill="url(#gsilver)"/><rect x="468.5" y="326.8" width="7" height="3" fill="#2b2e36"/><rect x="468" y="329.8" width="8" height="6.5" fill="url(#gsilver)"/><rect x="472.5" y="334.8" width="4" height="2" fill="#2b2e36"/><polyline points="483.9,341 486.9,336" fill="none" stroke="#b87a38" stroke-width="2.0" stroke-linejoin="round" stroke-linecap="round" /><polyline points="483.9,341 486.9,336" fill="none" stroke="#e4a654" stroke-width="0.8" stroke-linejoin="round" stroke-linecap="round" /><rect x="484.4" y="313.2" width="6" height="2.6" rx="1.3" fill="#2e9a4e"/><rect x="484.4" y="314.8" width="6" height="9" fill="url(#gdark)"/><rect x="485.9" y="317.2" width="1.6" height="2" fill="#2a7fd0"/><rect x="484.9" y="323.7" width="5" height="5" fill="url(#gsilver)"/><rect x="483.9" y="328.2" width="7" height="3" fill="#2b2e36"/><rect x="483.4" y="331.2" width="8" height="6.5" fill="url(#gsilver)"/><rect x="487.9" y="336.2" width="4" height="2" fill="#2b2e36"/><polyline points="499.1,341.5 502.1,336.5" fill="none" stroke="#b87a38" stroke-width="2.0" stroke-linejoin="round" stroke-linecap="round" /><polyline points="499.1,341.5 502.1,336.5" fill="none" stroke="#e4a654" stroke-width="0.8" stroke-linejoin="round" stroke-linecap="round" /><rect x="499.6" y="314.6" width="6" height="2.6" rx="1.3" fill="#2e9a4e"/><rect x="499.6" y="316.2" width="6" height="9" fill="url(#gdark)"/><rect x="501.1" y="318.6" width="1.6" height="2" fill="#2a7fd0"/><rect x="500.1" y="325.1" width="5" height="5" fill="url(#gsilver)"/><rect x="499.1" y="329.6" width="7" height="3" fill="#2b2e36"/><rect x="498.6" y="332.6" width="8" height="6.5" fill="url(#gsilver)"/><rect x="503.1" y="337.6" width="4" height="2" fill="#2b2e36"/><polyline points="514.5,342 517.5,337" fill="none" stroke="#b87a38" stroke-width="2.0" stroke-linejoin="round" stroke-linecap="round" /><polyline points="514.5,342 517.5,337" fill="none" stroke="#e4a654" stroke-width="0.8" stroke-linejoin="round" stroke-linecap="round" /><rect x="515" y="316" width="6" height="2.6" rx="1.3" fill="#2e9a4e"/><rect x="515" y="317.6" width="6" height="9" fill="url(#gdark)"/><rect x="516.5" y="320" width="1.6" height="2" fill="#2a7fd0"/><rect x="515.5" y="326.5" width="5" height="5" fill="url(#gsilver)"/><rect x="514.5" y="331" width="7" height="3" fill="#2b2e36"/><rect x="514" y="334" width="8" height="6.5" fill="url(#gsilver)"/><rect x="518.5" y="339" width="4" height="2" fill="#2b2e36"/><rect x="671.2" y="277.3" width="6" height="2.6" rx="1.3" fill="#2e9a4e"/><rect x="671.2" y="278.9" width="6" height="9" fill="url(#gdark)"/><rect x="672.7" y="281.3" width="1.6" height="2" fill="#2a7fd0"/><rect x="671.7" y="287.8" width="5" height="5" fill="url(#gsilver)"/><rect x="670.7" y="292.3" width="7" height="3" fill="#2b2e36"/><rect x="670.2" y="295.3" width="8" height="6.5" fill="url(#gsilver)"/><rect x="674.7" y="300.3" width="4" height="2" fill="#2b2e36"/><rect x="686.2" y="278.2" width="6" height="2.6" rx="1.3" fill="#2e9a4e"/><rect x="686.2" y="279.8" width="6" height="9" fill="url(#gdark)"/><rect x="687.7" y="282.2" width="1.6" height="2" fill="#2a7fd0"/><rect x="686.7" y="288.7" width="5" height="5" fill="url(#gsilver)"/><rect x="685.7" y="293.2" width="7" height="3" fill="#2b2e36"/><rect x="685.2" y="296.2" width="8" height="6.5" fill="url(#gsilver)"/><rect x="689.7" y="301.2" width="4" height="2" fill="#2b2e36"/><rect x="701.3" y="279.1" width="6" height="2.6" rx="1.3" fill="#2e9a4e"/><rect x="701.3" y="280.7" width="6" height="9" fill="url(#gdark)"/><rect x="702.8" y="283.1" width="1.6" height="2" fill="#2a7fd0"/><rect x="701.8" y="289.6" width="5" height="5" fill="url(#gsilver)"/><rect x="700.8" y="294.1" width="7" height="3" fill="#2b2e36"/><rect x="700.3" y="297.1" width="8" height="6.5" fill="url(#gsilver)"/><rect x="704.8" y="302.1" width="4" height="2" fill="#2b2e36"/><rect x="716.4" y="280" width="6" height="2.6" rx="1.3" fill="#2e9a4e"/><rect x="716.4" y="281.6" width="6" height="9" fill="url(#gdark)"/><rect x="717.9" y="284" width="1.6" height="2" fill="#2a7fd0"/><rect x="716.9" y="290.5" width="5" height="5" fill="url(#gsilver)"/><rect x="715.9" y="295" width="7" height="3" fill="#2b2e36"/><rect x="715.4" y="298" width="8" height="6.5" fill="url(#gsilver)"/><rect x="719.9" y="303" width="4" height="2" fill="#2b2e36"/><rect x="590" y="278" width="6" height="9.5" rx="2" fill="url(#gteal)"/><rect x="587" y="287" width="12" height="2.2" fill="#c8ccd8"/><rect x="587" y="286" width="1.6" height="4.5" fill="#9aa0b0"/><rect x="597.4" y="286" width="1.6" height="4.5" fill="#9aa0b0"/><rect x="591.7" y="306.2" width="6" height="9.5" rx="2" fill="url(#gteal)"/><rect x="588.7" y="315.2" width="12" height="2.2" fill="#c8ccd8"/><rect x="588.7" y="314.2" width="1.6" height="4.5" fill="#9aa0b0"/><rect x="599.1" y="314.2" width="1.6" height="4.5" fill="#9aa0b0"/><rect x="698.2" y="252" width="6" height="9.5" rx="2" fill="url(#gteal)"/><rect x="695.2" y="261" width="12" height="2.2" fill="#c8ccd8"/><rect x="695.2" y="260" width="1.6" height="4.5" fill="#9aa0b0"/><rect x="705.6" y="260" width="1.6" height="4.5" fill="#9aa0b0"/><polygon points="654.1,264.2 657.1,264.2 656.1,271.2 651.1,271.2" fill="#d9c400"/><polygon points="676.3,265.7 679.3,265.7 678.3,272.7 673.3,272.7" fill="#d9c400"/><path d="M653.5,253.5 L678.9,255 A6.3,6.3 0 0 1 678.9,267.7 L653.5,266.2 A6.3,6.3 0 0 1 653.5,253.5 Z" fill="url(#gwhite)"/><path d="M653.5,253.5 A6.3,6.3 0 0 0 653.5,266.2 L654.5,266.2 A4.2,6.3 0 0 1 654.5,253.5 Z" fill="#e6d200"/><path d="M678.9,255 A6.3,6.3 0 0 1 678.9,267.7 L677.9,267.7 A4.2,6.3 0 0 0 677.9,255 Z" fill="#e6d200"/><rect x="659.1" y="251.5" width="2.2" height="2.8" rx="0.8" fill="#e6d200"/><rect x="663.5" y="251.8" width="2.2" height="2.8" rx="0.8" fill="#e6d200"/><rect x="667.9" y="252" width="2.2" height="2.8" rx="0.8" fill="#e6d200"/><rect x="672.3" y="252.2" width="2.2" height="2.8" rx="0.8" fill="#e6d200"/><polygon points="725.6,269.8 728.6,269.8 727.6,276.8 722.6,276.8" fill="#d9c400"/><polygon points="747.8,271.3 750.8,271.3 749.8,278.3 744.8,278.3" fill="#d9c400"/><path d="M725,259 L750.4,260.5 A6.4,6.4 0 0 1 750.4,273.3 L725,271.8 A6.4,6.4 0 0 1 725,259 Z" fill="url(#gwhite)"/><path d="M725,259 A6.4,6.4 0 0 0 725,271.8 L726,271.8 A4.3,6.4 0 0 1 726,259 Z" fill="#e6d200"/><path d="M750.4,260.5 A6.4,6.4 0 0 1 750.4,273.3 L749.4,273.3 A4.3,6.4 0 0 0 749.4,260.5 Z" fill="#e6d200"/><rect x="730.6" y="257" width="2.2" height="2.8" rx="0.8" fill="#e6d200"/><rect x="735" y="257.2" width="2.2" height="2.8" rx="0.8" fill="#e6d200"/><rect x="739.4" y="257.5" width="2.2" height="2.8" rx="0.8" fill="#e6d200"/><rect x="743.8" y="257.8" width="2.2" height="2.8" rx="0.8" fill="#e6d200"/><polygon points="622.6,289.5 625.6,289.5 624.6,296.5 619.6,296.5" fill="#b9b096"/><polygon points="645.4,290 648.4,290 647.4,297 642.4,297" fill="#b9b096"/><path d="M624.4,274 L645.6,274.5 A8.8,8.8 0 0 1 645.6,292 L624.4,291.5 A8.8,8.8 0 0 1 624.4,274 Z" fill="url(#gbeige)"/><polyline points="574.4,342.4 561.1,364.6" fill="none" stroke="#a36a32" stroke-width="1.7" stroke-linejoin="round" stroke-linecap="round" /><polyline points="574.4,342.4 561.1,364.6" fill="none" stroke="#e9b36e" stroke-width="0.7" stroke-linejoin="round" stroke-linecap="round" /><polyline points="584.2,346.1 570.2,367.5" fill="none" stroke="#a36a32" stroke-width="1.7" stroke-linejoin="round" stroke-linecap="round" /><polyline points="584.2,346.1 570.2,367.5" fill="none" stroke="#e9b36e" stroke-width="0.7" stroke-linejoin="round" stroke-linecap="round" /><path d="M565.8,358.6 L565.8,395.6 A1.8,1.8 0 0 0 569.4,395.6 L569.4,361.6" fill="none" stroke="#a36a32" stroke-width="1.5"/><path d="M565.8,358.6 L565.8,395.6 A1.8,1.8 0 0 0 569.4,395.6 L569.4,361.6" fill="none" stroke="#e9b36e" stroke-width="0.6"/><path d="M570.9,353.5 L570.9,389.7 A1.8,1.8 0 0 0 574.5,389.7 L574.5,356.5" fill="none" stroke="#a36a32" stroke-width="1.5"/><path d="M570.9,353.5 L570.9,389.7 A1.8,1.8 0 0 0 574.5,389.7 L574.5,356.5" fill="none" stroke="#e9b36e" stroke-width="0.6"/><path d="M576.1,348.3 L576.1,383 A1.8,1.8 0 0 0 579.7,383 L579.7,351.3" fill="none" stroke="#a36a32" stroke-width="1.5"/><path d="M576.1,348.3 L576.1,383 A1.8,1.8 0 0 0 579.7,383 L579.7,351.3" fill="none" stroke="#e9b36e" stroke-width="0.6"/><path d="M580.5,346 L580.5,376.4 A1.8,1.8 0 0 0 584.1,376.4 L584.1,349" fill="none" stroke="#a36a32" stroke-width="1.5"/><path d="M580.5,346 L580.5,376.4 A1.8,1.8 0 0 0 584.1,376.4 L584.1,349" fill="none" stroke="#e9b36e" stroke-width="0.6"/><polyline points="612.8,344.6 599.5,366.8" fill="none" stroke="#a36a32" stroke-width="1.7" stroke-linejoin="round" stroke-linecap="round" /><polyline points="612.8,344.6 599.5,366.8" fill="none" stroke="#e9b36e" stroke-width="0.7" stroke-linejoin="round" stroke-linecap="round" /><polyline points="622.6,348.3 608.6,369.7" fill="none" stroke="#a36a32" stroke-width="1.7" stroke-linejoin="round" stroke-linecap="round" /><polyline points="622.6,348.3 608.6,369.7" fill="none" stroke="#e9b36e" stroke-width="0.7" stroke-linejoin="round" stroke-linecap="round" /><path d="M604.2,360.8 L604.2,397.8 A1.8,1.8 0 0 0 607.8,397.8 L607.8,363.8" fill="none" stroke="#a36a32" stroke-width="1.5"/><path d="M604.2,360.8 L604.2,397.8 A1.8,1.8 0 0 0 607.8,397.8 L607.8,363.8" fill="none" stroke="#e9b36e" stroke-width="0.6"/><path d="M609.3,355.7 L609.3,391.9 A1.8,1.8 0 0 0 612.9,391.9 L612.9,358.7" fill="none" stroke="#a36a32" stroke-width="1.5"/><path d="M609.3,355.7 L609.3,391.9 A1.8,1.8 0 0 0 612.9,391.9 L612.9,358.7" fill="none" stroke="#e9b36e" stroke-width="0.6"/><path d="M614.5,350.5 L614.5,385.2 A1.8,1.8 0 0 0 618.1,385.2 L618.1,353.5" fill="none" stroke="#a36a32" stroke-width="1.5"/><path d="M614.5,350.5 L614.5,385.2 A1.8,1.8 0 0 0 618.1,385.2 L618.1,353.5" fill="none" stroke="#e9b36e" stroke-width="0.6"/><path d="M618.9,348.2 L618.9,378.6 A1.8,1.8 0 0 0 622.5,378.6 L622.5,351.2" fill="none" stroke="#a36a32" stroke-width="1.5"/><path d="M618.9,348.2 L618.9,378.6 A1.8,1.8 0 0 0 622.5,378.6 L622.5,351.2" fill="none" stroke="#e9b36e" stroke-width="0.6"/><polyline points="651.2,348.3 637.9,370.5" fill="none" stroke="#a36a32" stroke-width="1.7" stroke-linejoin="round" stroke-linecap="round" /><polyline points="651.2,348.3 637.9,370.5" fill="none" stroke="#e9b36e" stroke-width="0.7" stroke-linejoin="round" stroke-linecap="round" /><polyline points="661,352 647,373.4" fill="none" stroke="#a36a32" stroke-width="1.7" stroke-linejoin="round" stroke-linecap="round" /><polyline points="661,352 647,373.4" fill="none" stroke="#e9b36e" stroke-width="0.7" stroke-linejoin="round" stroke-linecap="round" /><path d="M642.6,364.5 L642.6,401.5 A1.8,1.8 0 0 0 646.2,401.5 L646.2,367.5" fill="none" stroke="#a36a32" stroke-width="1.5"/><path d="M642.6,364.5 L642.6,401.5 A1.8,1.8 0 0 0 646.2,401.5 L646.2,367.5" fill="none" stroke="#e9b36e" stroke-width="0.6"/><path d="M647.7,359.4 L647.7,395.6 A1.8,1.8 0 0 0 651.3,395.6 L651.3,362.4" fill="none" stroke="#a36a32" stroke-width="1.5"/><path d="M647.7,359.4 L647.7,395.6 A1.8,1.8 0 0 0 651.3,395.6 L651.3,362.4" fill="none" stroke="#e9b36e" stroke-width="0.6"/><path d="M652.9,354.2 L652.9,388.9 A1.8,1.8 0 0 0 656.5,388.9 L656.5,357.2" fill="none" stroke="#a36a32" stroke-width="1.5"/><path d="M652.9,354.2 L652.9,388.9 A1.8,1.8 0 0 0 656.5,388.9 L656.5,357.2" fill="none" stroke="#e9b36e" stroke-width="0.6"/><path d="M657.3,351.9 L657.3,382.3 A1.8,1.8 0 0 0 660.9,382.3 L660.9,354.9" fill="none" stroke="#a36a32" stroke-width="1.5"/><path d="M657.3,351.9 L657.3,382.3 A1.8,1.8 0 0 0 660.9,382.3 L660.9,354.9" fill="none" stroke="#e9b36e" stroke-width="0.6"/></svg>
<div id="hdr"></div>
<div id="title"><span style="left:40.5px;">I</span><span style="left:52.5px;">2</span><span style="left:74.3px;transform:scaleX(0.716)">E</span><span style="left:92.2px;">N</span><span style="left:119.3px;transform:scaleX(0.74)">S</span><span style="left:137.4px;">A</span><span style="left:160.7px;transform:scaleX(0.95)">V</span><span style="left:184.8px;transform:scaleX(1.05)">-</span><span style="left:198.5px;transform:scaleX(0.913)">G</span><span style="left:223.6px;transform:scaleX(0.815)">S</span></div>
<div id="bar1"></div><div id="bar2"></div>
<div id="sub">水<span style="letter-spacing:2px;margin-left:0.5px">/</span>地源热泵系统节能智控模块(机房)</div>
<div id="h2">每个模块(机房)</div>
<div class="li" style="top:223px">1．匹配任意系统功率（带联锁功能主机，支持主流开发协议机组）；</div>
<div class="li" style="top:251px">2．可连接主机数量<span style="letter-spacing:0.78px">1-16</span>台（智能加减载策略管理）；</div>
<div class="li" style="top:278px">3．可连接水泵数量<span style="letter-spacing:0.58px">1-5</span>台<span style="letter-spacing:0.58px">x2</span>（自动匹配水泵数量、智能变频）；</div>
<div class="li" style="top:306px">4．标配SCOP跟踪评价、回归计算、能耗计量；</div>
<div class="li" style="top:333px">5．标配物联网功能（<span style="letter-spacing:0.85px">WLAN/3G/4G/5G</span>），远程管理</div>
<div class="li" style="top:361px">&nbsp;&nbsp;&nbsp;&nbsp;&nbsp;&nbsp;(PC/PAD/手机)、报表功能；</div>
<div class="li" style="top:388px">6．标配嵌入式控制软件<span style="letter-spacing:0.4px;margin-left:1.5px">I2ENSAV-AI</span>，支持远程更新；</div>
<div class="li" style="top:416px">7．维保预测、故障预警（支持微信、短信、电话、现场声光）；</div>
<div class="li" style="top:444px">8．*兼容主流<span style="letter-spacing:0.8px">BA</span>。</div>
<div id="pg"><span style="left:763px;transform:scaleX(0.83)">2</span><span style="left:768.5px;transform:scaleX(0.6)">1</span><div id="pgbar"></div><span style="left:781.9px;transform:scaleX(0.83)">2</span><span style="left:788.6px;transform:scaleX(0.8)">2</span></div>
</body></html>
